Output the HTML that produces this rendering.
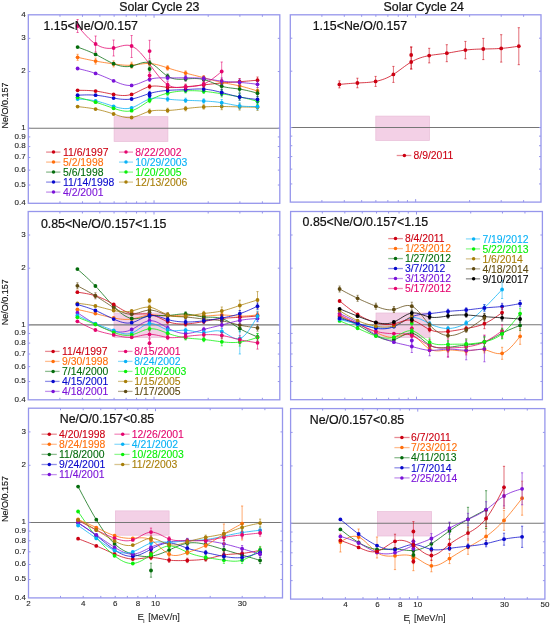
<!DOCTYPE html>
<html><head><meta charset="utf-8"><title>Ne/O ratios</title>
<style>
html,body{margin:0;padding:0;background:#fff;}
body{width:550px;height:626px;overflow:hidden;}
svg{display:block;font-family:"Liberation Sans", sans-serif;filter:blur(0.3px);}
</style></head>
<body>
<svg width="550" height="626" viewBox="0 0 550 626">
<rect width="550" height="626" fill="#fff"/>
<rect x="114.10" y="116.70" width="53.80" height="24.80" fill="#f3d0e6" stroke="#e9bcd8" stroke-width="0.7"/>
<path d="M28.30,128.29H279.80" stroke="#767676" stroke-width="1.05"/>
<path d="M77.60,106.60 L79.85,106.85 L82.10,107.10 L84.35,107.37 L86.60,107.65 L88.85,107.96 L91.10,108.30 L93.35,108.68 L95.60,109.10 L97.85,109.57 L100.10,110.08 L102.35,110.64 L104.60,111.24 L106.85,111.88 L109.10,112.56 L111.35,113.26 L113.60,114.00 L115.85,114.76 L118.10,115.50 L120.35,116.19 L122.60,116.79 L124.85,117.27 L127.10,117.57 L129.35,117.66 L131.60,117.50 L133.85,117.07 L136.10,116.42 L138.35,115.60 L140.60,114.69 L142.85,113.74 L145.10,112.81 L147.35,111.98 L149.60,111.30 L151.85,110.82 L154.10,110.52 L156.35,110.36 L158.60,110.30 L160.85,110.32 L163.10,110.36 L165.35,110.40 L167.60,110.40 L169.85,110.33 L172.10,110.19 L174.35,109.99 L176.60,109.75 L178.85,109.48 L181.10,109.19 L183.35,108.89 L185.60,108.60 L187.86,108.32 L190.12,108.06 L192.39,107.82 L194.65,107.59 L196.91,107.39 L199.17,107.20 L201.44,107.04 L203.70,106.90 L205.95,106.78 L208.20,106.69 L210.45,106.61 L212.70,106.55 L214.95,106.51 L217.20,106.49 L219.45,106.49 L221.70,106.50 L223.94,106.53 L226.17,106.56 L228.41,106.61 L230.65,106.67 L232.89,106.72 L235.12,106.78 L237.36,106.84 L239.60,106.90 L241.84,106.95 L244.07,107.00 L246.31,107.04 L248.55,107.07 L250.79,107.11 L253.03,107.14 L255.26,107.17 L257.50,107.20" stroke="#a87e08" stroke-width="0.9" fill="none" stroke-opacity="0.85"/>
<path d="M149.60,109.10V113.50M148.50,109.10h2.2M148.50,113.50h2.2M167.60,108.20V112.60M166.50,108.20h2.2M166.50,112.60h2.2M185.60,106.40V110.80M184.50,106.40h2.2M184.50,110.80h2.2M203.70,104.70V109.10M202.60,104.70h2.2M202.60,109.10h2.2M221.70,103.30V109.70M220.60,103.30h2.2M220.60,109.70h2.2M239.60,103.70V110.10M238.50,103.70h2.2M238.50,110.10h2.2M257.50,104.00V110.40M256.40,104.00h2.2M256.40,110.40h2.2" stroke="#a87e08" stroke-width="0.8" fill="none" stroke-opacity="0.72"/>
<circle cx="77.60" cy="106.60" r="1.9" fill="#a87e08"/>
<circle cx="95.60" cy="109.10" r="1.9" fill="#a87e08"/>
<circle cx="113.60" cy="114.00" r="1.9" fill="#a87e08"/>
<circle cx="131.60" cy="117.50" r="1.9" fill="#a87e08"/>
<circle cx="149.60" cy="111.30" r="1.9" fill="#a87e08"/>
<circle cx="167.60" cy="110.40" r="1.9" fill="#a87e08"/>
<circle cx="185.60" cy="108.60" r="1.9" fill="#a87e08"/>
<circle cx="203.70" cy="106.90" r="1.9" fill="#a87e08"/>
<circle cx="221.70" cy="106.50" r="1.9" fill="#a87e08"/>
<circle cx="239.60" cy="106.90" r="1.9" fill="#a87e08"/>
<circle cx="257.50" cy="107.20" r="1.9" fill="#a87e08"/>
<path d="M77.60,99.00 L79.85,99.12 L82.10,99.25 L84.35,99.40 L86.60,99.58 L88.85,99.82 L91.10,100.10 L93.35,100.46 L95.60,100.90 L97.85,101.42 L100.10,102.02 L102.35,102.68 L104.60,103.38 L106.85,104.11 L109.10,104.85 L111.35,105.59 L113.60,106.30 L115.85,106.97 L118.10,107.57 L120.35,108.07 L122.60,108.43 L124.85,108.61 L127.10,108.59 L129.35,108.33 L131.60,107.80 L133.85,106.98 L136.10,105.93 L138.35,104.72 L140.60,103.44 L142.85,102.15 L145.10,100.93 L147.35,99.85 L149.60,99.00 L151.85,98.43 L154.10,98.10 L156.35,97.99 L158.60,98.05 L160.85,98.24 L163.10,98.50 L165.35,98.80 L167.60,99.10 L169.85,99.36 L172.10,99.57 L174.35,99.75 L176.60,99.90 L178.85,100.03 L181.10,100.13 L183.35,100.22 L185.60,100.30 L187.86,100.38 L190.12,100.46 L192.39,100.53 L194.65,100.62 L196.91,100.70 L199.17,100.79 L201.44,100.89 L203.70,101.00 L205.95,101.12 L208.20,101.26 L210.45,101.41 L212.70,101.60 L214.95,101.81 L217.20,102.07 L219.45,102.36 L221.70,102.70 L223.94,103.09 L226.17,103.51 L228.41,103.95 L230.65,104.39 L232.89,104.82 L235.12,105.23 L237.36,105.59 L239.60,105.90 L241.84,106.14 L244.07,106.31 L246.31,106.42 L248.55,106.49 L250.79,106.53 L253.03,106.53 L255.26,106.52 L257.50,106.50" stroke="#08b2f6" stroke-width="0.9" fill="none" stroke-opacity="0.85"/>
<path d="M149.60,96.80V101.20M148.50,96.80h2.2M148.50,101.20h2.2M167.60,96.90V101.30M166.50,96.90h2.2M166.50,101.30h2.2M185.60,98.10V102.50M184.50,98.10h2.2M184.50,102.50h2.2M203.70,98.80V103.20M202.60,98.80h2.2M202.60,103.20h2.2M221.70,99.50V105.90M220.60,99.50h2.2M220.60,105.90h2.2M239.60,102.70V109.10M238.50,102.70h2.2M238.50,109.10h2.2M257.50,103.30V109.70M256.40,103.30h2.2M256.40,109.70h2.2" stroke="#08b2f6" stroke-width="0.8" fill="none" stroke-opacity="0.72"/>
<circle cx="77.60" cy="99.00" r="1.9" fill="#08b2f6"/>
<circle cx="95.60" cy="100.90" r="1.9" fill="#08b2f6"/>
<circle cx="113.60" cy="106.30" r="1.9" fill="#08b2f6"/>
<circle cx="131.60" cy="107.80" r="1.9" fill="#08b2f6"/>
<circle cx="149.60" cy="99.00" r="1.9" fill="#08b2f6"/>
<circle cx="167.60" cy="99.10" r="1.9" fill="#08b2f6"/>
<circle cx="185.60" cy="100.30" r="1.9" fill="#08b2f6"/>
<circle cx="203.70" cy="101.00" r="1.9" fill="#08b2f6"/>
<circle cx="221.70" cy="102.70" r="1.9" fill="#08b2f6"/>
<circle cx="239.60" cy="105.90" r="1.9" fill="#08b2f6"/>
<circle cx="257.50" cy="106.50" r="1.9" fill="#08b2f6"/>
<path d="M77.60,97.30 L79.85,97.87 L82.10,98.45 L84.35,99.03 L86.60,99.62 L88.85,100.23 L91.10,100.86 L93.35,101.52 L95.60,102.20 L97.85,102.91 L100.10,103.65 L102.35,104.41 L104.60,105.18 L106.85,105.96 L109.10,106.74 L111.35,107.53 L113.60,108.30 L115.85,109.06 L118.10,109.76 L120.35,110.37 L122.60,110.85 L124.85,111.17 L127.10,111.27 L129.35,111.13 L131.60,110.70 L133.85,109.96 L136.10,108.96 L138.35,107.74 L140.60,106.37 L142.85,104.91 L145.10,103.40 L147.35,101.91 L149.60,100.50 L151.85,99.21 L154.10,98.04 L156.35,96.98 L158.60,96.04 L160.85,95.19 L163.10,94.45 L165.35,93.78 L167.60,93.20 L169.85,92.69 L172.10,92.25 L174.35,91.87 L176.60,91.55 L178.85,91.29 L181.10,91.08 L183.35,90.92 L185.60,90.80 L187.86,90.72 L190.12,90.69 L192.39,90.69 L194.65,90.74 L196.91,90.82 L199.17,90.94 L201.44,91.10 L203.70,91.30 L205.95,91.53 L208.20,91.80 L210.45,92.10 L212.70,92.41 L214.95,92.75 L217.20,93.09 L219.45,93.44 L221.70,93.80 L223.94,94.15 L226.17,94.51 L228.41,94.87 L230.65,95.24 L232.89,95.62 L235.12,96.02 L237.36,96.45 L239.60,96.90 L241.84,97.38 L244.07,97.89 L246.31,98.42 L248.55,98.98 L250.79,99.54 L253.03,100.12 L255.26,100.71 L257.50,101.30" stroke="#08f008" stroke-width="0.9" fill="none" stroke-opacity="0.85"/>
<path d="M149.60,98.30V102.70M148.50,98.30h2.2M148.50,102.70h2.2M167.60,91.00V95.40M166.50,91.00h2.2M166.50,95.40h2.2M185.60,88.60V93.00M184.50,88.60h2.2M184.50,93.00h2.2M203.70,89.10V93.50M202.60,89.10h2.2M202.60,93.50h2.2M221.70,90.60V97.00M220.60,90.60h2.2M220.60,97.00h2.2M239.60,93.70V100.10M238.50,93.70h2.2M238.50,100.10h2.2M257.50,98.10V104.50M256.40,98.10h2.2M256.40,104.50h2.2" stroke="#08f008" stroke-width="0.8" fill="none" stroke-opacity="0.72"/>
<circle cx="77.60" cy="97.30" r="1.9" fill="#08f008"/>
<circle cx="95.60" cy="102.20" r="1.9" fill="#08f008"/>
<circle cx="113.60" cy="108.30" r="1.9" fill="#08f008"/>
<circle cx="131.60" cy="110.70" r="1.9" fill="#08f008"/>
<circle cx="149.60" cy="100.50" r="1.9" fill="#08f008"/>
<circle cx="167.60" cy="93.20" r="1.9" fill="#08f008"/>
<circle cx="185.60" cy="90.80" r="1.9" fill="#08f008"/>
<circle cx="203.70" cy="91.30" r="1.9" fill="#08f008"/>
<circle cx="221.70" cy="93.80" r="1.9" fill="#08f008"/>
<circle cx="239.60" cy="96.90" r="1.9" fill="#08f008"/>
<circle cx="257.50" cy="101.30" r="1.9" fill="#08f008"/>
<path d="M77.60,95.20 L79.85,95.10 L82.10,95.02 L84.35,94.95 L86.60,94.90 L88.85,94.90 L91.10,94.94 L93.35,95.04 L95.60,95.20 L97.85,95.43 L100.10,95.73 L102.35,96.07 L104.60,96.45 L106.85,96.86 L109.10,97.27 L111.35,97.69 L113.60,98.10 L115.85,98.48 L118.10,98.82 L120.35,99.11 L122.60,99.31 L124.85,99.42 L127.10,99.42 L129.35,99.28 L131.60,99.00 L133.85,98.56 L136.10,97.99 L138.35,97.31 L140.60,96.56 L142.85,95.78 L145.10,94.98 L147.35,94.21 L149.60,93.50 L151.85,92.87 L154.10,92.32 L156.35,91.85 L158.60,91.44 L160.85,91.10 L163.10,90.82 L165.35,90.59 L167.60,90.40 L169.85,90.25 L172.10,90.13 L174.35,90.03 L176.60,89.95 L178.85,89.87 L181.10,89.80 L183.35,89.71 L185.60,89.60 L187.86,89.47 L190.12,89.33 L192.39,89.19 L194.65,89.08 L196.91,88.99 L199.17,88.96 L201.44,88.99 L203.70,89.10 L205.95,89.30 L208.20,89.58 L210.45,89.94 L212.70,90.36 L214.95,90.84 L217.20,91.36 L219.45,91.92 L221.70,92.50 L223.94,93.10 L226.17,93.70 L228.41,94.30 L230.65,94.89 L232.89,95.47 L235.12,96.01 L237.36,96.53 L239.60,97.00 L241.84,97.42 L244.07,97.80 L246.31,98.14 L248.55,98.45 L250.79,98.74 L253.03,99.00 L255.26,99.25 L257.50,99.50" stroke="#0808cc" stroke-width="0.9" fill="none" stroke-opacity="0.85"/>
<path d="M149.60,91.30V95.70M148.50,91.30h2.2M148.50,95.70h2.2M167.60,88.20V92.60M166.50,88.20h2.2M166.50,92.60h2.2M185.60,87.40V91.80M184.50,87.40h2.2M184.50,91.80h2.2M203.70,86.90V91.30M202.60,86.90h2.2M202.60,91.30h2.2M221.70,89.30V95.70M220.60,89.30h2.2M220.60,95.70h2.2M239.60,93.80V100.20M238.50,93.80h2.2M238.50,100.20h2.2M257.50,96.30V102.70M256.40,96.30h2.2M256.40,102.70h2.2M149.60,93.30V97.70M148.50,93.30h2.2M148.50,97.70h2.2" stroke="#0808cc" stroke-width="0.8" fill="none" stroke-opacity="0.72"/>
<circle cx="77.60" cy="95.20" r="1.9" fill="#0808cc"/>
<circle cx="95.60" cy="95.20" r="1.9" fill="#0808cc"/>
<circle cx="113.60" cy="98.10" r="1.9" fill="#0808cc"/>
<circle cx="131.60" cy="99.00" r="1.9" fill="#0808cc"/>
<circle cx="149.60" cy="93.50" r="1.9" fill="#0808cc"/>
<circle cx="167.60" cy="90.40" r="1.9" fill="#0808cc"/>
<circle cx="185.60" cy="89.60" r="1.9" fill="#0808cc"/>
<circle cx="203.70" cy="89.10" r="1.9" fill="#0808cc"/>
<circle cx="221.70" cy="92.50" r="1.9" fill="#0808cc"/>
<circle cx="239.60" cy="97.00" r="1.9" fill="#0808cc"/>
<circle cx="257.50" cy="99.50" r="1.9" fill="#0808cc"/>
<circle cx="149.60" cy="95.50" r="1.9" fill="#0808cc"/>
<path d="M77.60,90.30 L79.85,90.31 L82.10,90.33 L84.35,90.37 L86.60,90.43 L88.85,90.53 L91.10,90.67 L93.35,90.85 L95.60,91.10 L97.85,91.41 L100.10,91.77 L102.35,92.18 L104.60,92.61 L106.85,93.07 L109.10,93.52 L111.35,93.97 L113.60,94.40 L115.85,94.79 L118.10,95.13 L120.35,95.38 L122.60,95.51 L124.85,95.51 L127.10,95.34 L129.35,94.98 L131.60,94.40 L133.85,93.59 L136.10,92.60 L138.35,91.49 L140.60,90.34 L142.85,89.21 L145.10,88.17 L147.35,87.27 L149.60,86.60 L151.85,86.19 L154.10,86.02 L156.35,86.04 L158.60,86.20 L160.85,86.45 L163.10,86.75 L165.35,87.05 L167.60,87.30 L169.85,87.46 L172.10,87.54 L174.35,87.53 L176.60,87.47 L178.85,87.35 L181.10,87.20 L183.35,87.01 L185.60,86.80 L187.86,86.58 L190.12,86.36 L192.39,86.13 L194.65,85.89 L196.91,85.65 L199.17,85.40 L201.44,85.15 L203.70,84.90 L205.95,84.65 L208.20,84.39 L210.45,84.14 L212.70,83.89 L214.95,83.65 L217.20,83.42 L219.45,83.20 L221.70,83.00 L223.94,82.81 L226.17,82.64 L228.41,82.48 L230.65,82.32 L232.89,82.17 L235.12,82.01 L237.36,81.86 L239.60,81.70 L241.84,81.53 L244.07,81.36 L246.31,81.17 L248.55,80.99 L250.79,80.79 L253.03,80.60 L255.26,80.40 L257.50,80.20" stroke="#cc0012" stroke-width="0.9" fill="none" stroke-opacity="0.85"/>
<path d="M149.60,84.40V88.80M148.50,84.40h2.2M148.50,88.80h2.2M167.60,85.10V89.50M166.50,85.10h2.2M166.50,89.50h2.2M185.60,84.60V89.00M184.50,84.60h2.2M184.50,89.00h2.2M203.70,82.70V87.10M202.60,82.70h2.2M202.60,87.10h2.2M221.70,79.80V86.20M220.60,79.80h2.2M220.60,86.20h2.2M239.60,78.50V84.90M238.50,78.50h2.2M238.50,84.90h2.2M257.50,77.00V83.40M256.40,77.00h2.2M256.40,83.40h2.2" stroke="#cc0012" stroke-width="0.8" fill="none" stroke-opacity="0.72"/>
<circle cx="77.60" cy="90.30" r="1.9" fill="#cc0012"/>
<circle cx="95.60" cy="91.10" r="1.9" fill="#cc0012"/>
<circle cx="113.60" cy="94.40" r="1.9" fill="#cc0012"/>
<circle cx="131.60" cy="94.40" r="1.9" fill="#cc0012"/>
<circle cx="149.60" cy="86.60" r="1.9" fill="#cc0012"/>
<circle cx="167.60" cy="87.30" r="1.9" fill="#cc0012"/>
<circle cx="185.60" cy="86.80" r="1.9" fill="#cc0012"/>
<circle cx="203.70" cy="84.90" r="1.9" fill="#cc0012"/>
<circle cx="221.70" cy="83.00" r="1.9" fill="#cc0012"/>
<circle cx="239.60" cy="81.70" r="1.9" fill="#cc0012"/>
<circle cx="257.50" cy="80.20" r="1.9" fill="#cc0012"/>
<path d="M77.60,57.30 L79.85,57.81 L82.10,58.31 L84.35,58.80 L86.60,59.29 L88.85,59.77 L91.10,60.23 L93.35,60.68 L95.60,61.10 L97.85,61.50 L100.10,61.88 L102.35,62.25 L104.60,62.60 L106.85,62.93 L109.10,63.26 L111.35,63.58 L113.60,63.90 L115.85,64.21 L118.10,64.51 L120.35,64.78 L122.60,65.01 L124.85,65.18 L127.10,65.28 L129.35,65.29 L131.60,65.20 L133.85,65.01 L136.10,64.73 L138.35,64.42 L140.60,64.10 L142.85,63.81 L145.10,63.59 L147.35,63.48 L149.60,63.50 L151.85,63.69 L154.10,64.04 L156.35,64.51 L158.60,65.08 L160.85,65.73 L163.10,66.43 L165.35,67.17 L167.60,67.90 L169.85,68.62 L172.10,69.31 L174.35,69.99 L176.60,70.64 L178.85,71.28 L181.10,71.90 L183.35,72.51 L185.60,73.10 L187.86,73.68 L190.12,74.25 L192.39,74.82 L194.65,75.38 L196.91,75.95 L199.17,76.52 L201.44,77.10 L203.70,77.70 L205.95,78.31 L208.20,78.93 L210.45,79.54 L212.70,80.16 L214.95,80.76 L217.20,81.34 L219.45,81.89 L221.70,82.40 L223.94,82.87 L226.17,83.31 L228.41,83.72 L230.65,84.13 L232.89,84.54 L235.12,84.96 L237.36,85.41 L239.60,85.90 L241.84,86.43 L244.07,87.01 L246.31,87.62 L248.55,88.26 L250.79,88.92 L253.03,89.60 L255.26,90.30 L257.50,91.00" stroke="#ff6e0a" stroke-width="0.9" fill="none" stroke-opacity="0.85"/>
<path d="M77.60,54.30V60.30M76.50,54.30h2.2M76.50,60.30h2.2M95.60,58.10V64.10M94.50,58.10h2.2M94.50,64.10h2.2M113.60,60.90V66.90M112.50,60.90h2.2M112.50,66.90h2.2M131.60,62.20V68.20M130.50,62.20h2.2M130.50,68.20h2.2M149.60,61.30V65.70M148.50,61.30h2.2M148.50,65.70h2.2M167.60,65.70V70.10M166.50,65.70h2.2M166.50,70.10h2.2M185.60,70.90V75.30M184.50,70.90h2.2M184.50,75.30h2.2M203.70,75.50V79.90M202.60,75.50h2.2M202.60,79.90h2.2M221.70,79.20V85.60M220.60,79.20h2.2M220.60,85.60h2.2M239.60,82.70V89.10M238.50,82.70h2.2M238.50,89.10h2.2M257.50,87.80V94.20M256.40,87.80h2.2M256.40,94.20h2.2" stroke="#ff6e0a" stroke-width="0.8" fill="none" stroke-opacity="0.72"/>
<circle cx="77.60" cy="57.30" r="1.9" fill="#ff6e0a"/>
<circle cx="95.60" cy="61.10" r="1.9" fill="#ff6e0a"/>
<circle cx="113.60" cy="63.90" r="1.9" fill="#ff6e0a"/>
<circle cx="131.60" cy="65.20" r="1.9" fill="#ff6e0a"/>
<circle cx="149.60" cy="63.50" r="1.9" fill="#ff6e0a"/>
<circle cx="167.60" cy="67.90" r="1.9" fill="#ff6e0a"/>
<circle cx="185.60" cy="73.10" r="1.9" fill="#ff6e0a"/>
<circle cx="203.70" cy="77.70" r="1.9" fill="#ff6e0a"/>
<circle cx="221.70" cy="82.40" r="1.9" fill="#ff6e0a"/>
<circle cx="239.60" cy="85.90" r="1.9" fill="#ff6e0a"/>
<circle cx="257.50" cy="91.00" r="1.9" fill="#ff6e0a"/>
<path d="M77.60,47.10 L79.85,47.91 L82.10,48.73 L84.35,49.57 L86.60,50.44 L88.85,51.35 L91.10,52.31 L93.35,53.32 L95.60,54.40 L97.85,55.55 L100.10,56.76 L102.35,57.99 L104.60,59.23 L106.85,60.44 L109.10,61.61 L111.35,62.70 L113.60,63.70 L115.85,64.58 L118.10,65.32 L120.35,65.92 L122.60,66.34 L124.85,66.59 L127.10,66.64 L129.35,66.48 L131.60,66.10 L133.85,65.49 L136.10,64.75 L138.35,63.96 L140.60,63.22 L142.85,62.64 L145.10,62.31 L147.35,62.33 L149.60,62.80 L151.85,63.78 L154.10,65.19 L156.35,66.92 L158.60,68.85 L160.85,70.85 L163.10,72.83 L165.35,74.65 L167.60,76.20 L169.85,77.40 L172.10,78.26 L174.35,78.83 L176.60,79.15 L178.85,79.29 L181.10,79.28 L183.35,79.16 L185.60,79.00 L187.86,78.83 L190.12,78.67 L192.39,78.57 L194.65,78.52 L196.91,78.57 L199.17,78.73 L201.44,79.04 L203.70,79.50 L205.95,80.13 L208.20,80.91 L210.45,81.79 L212.70,82.72 L214.95,83.67 L217.20,84.60 L219.45,85.45 L221.70,86.20 L223.94,86.80 L226.17,87.29 L228.41,87.67 L230.65,87.99 L232.89,88.26 L235.12,88.52 L237.36,88.79 L239.60,89.10 L241.84,89.47 L244.07,89.90 L246.31,90.37 L248.55,90.89 L250.79,91.44 L253.03,92.01 L255.26,92.60 L257.50,93.20" stroke="#046c0c" stroke-width="0.9" fill="none" stroke-opacity="0.85"/>
<path d="M149.60,60.60V65.00M148.50,60.60h2.2M148.50,65.00h2.2M167.60,74.00V78.40M166.50,74.00h2.2M166.50,78.40h2.2M185.60,76.80V81.20M184.50,76.80h2.2M184.50,81.20h2.2M203.70,77.30V81.70M202.60,77.30h2.2M202.60,81.70h2.2M221.70,83.00V89.40M220.60,83.00h2.2M220.60,89.40h2.2M239.60,85.90V92.30M238.50,85.90h2.2M238.50,92.30h2.2M257.50,90.00V96.40M256.40,90.00h2.2M256.40,96.40h2.2M149.60,66.80V71.20M148.50,66.80h2.2M148.50,71.20h2.2" stroke="#046c0c" stroke-width="0.8" fill="none" stroke-opacity="0.72"/>
<circle cx="77.60" cy="47.10" r="1.9" fill="#046c0c"/>
<circle cx="95.60" cy="54.40" r="1.9" fill="#046c0c"/>
<circle cx="113.60" cy="63.70" r="1.9" fill="#046c0c"/>
<circle cx="131.60" cy="66.10" r="1.9" fill="#046c0c"/>
<circle cx="149.60" cy="62.80" r="1.9" fill="#046c0c"/>
<circle cx="167.60" cy="76.20" r="1.9" fill="#046c0c"/>
<circle cx="185.60" cy="79.00" r="1.9" fill="#046c0c"/>
<circle cx="203.70" cy="79.50" r="1.9" fill="#046c0c"/>
<circle cx="221.70" cy="86.20" r="1.9" fill="#046c0c"/>
<circle cx="239.60" cy="89.10" r="1.9" fill="#046c0c"/>
<circle cx="257.50" cy="93.20" r="1.9" fill="#046c0c"/>
<circle cx="149.60" cy="69.00" r="1.9" fill="#046c0c"/>
<path d="M77.60,68.50 L79.85,69.03 L82.10,69.57 L84.35,70.13 L86.60,70.71 L88.85,71.32 L91.10,71.96 L93.35,72.66 L95.60,73.40 L97.85,74.20 L100.10,75.06 L102.35,75.95 L104.60,76.89 L106.85,77.84 L109.10,78.82 L111.35,79.81 L113.60,80.80 L115.85,81.78 L118.10,82.71 L120.35,83.57 L122.60,84.31 L124.85,84.90 L127.10,85.30 L129.35,85.48 L131.60,85.40 L133.85,85.04 L136.10,84.44 L138.35,83.67 L140.60,82.78 L142.85,81.84 L145.10,80.90 L147.35,80.04 L149.60,79.30 L151.85,78.74 L154.10,78.34 L156.35,78.07 L158.60,77.92 L160.85,77.85 L163.10,77.84 L165.35,77.87 L167.60,77.90 L169.85,77.92 L172.10,77.92 L174.35,77.91 L176.60,77.89 L178.85,77.86 L181.10,77.84 L183.35,77.82 L185.60,77.80 L187.86,77.79 L190.12,77.80 L192.39,77.83 L194.65,77.89 L196.91,77.98 L199.17,78.11 L201.44,78.28 L203.70,78.50 L205.95,78.77 L208.20,79.09 L210.45,79.43 L212.70,79.78 L214.95,80.14 L217.20,80.49 L219.45,80.81 L221.70,81.10 L223.94,81.34 L226.17,81.53 L228.41,81.70 L230.65,81.84 L232.89,81.98 L235.12,82.11 L237.36,82.25 L239.60,82.40 L241.84,82.58 L244.07,82.78 L246.31,83.00 L248.55,83.24 L250.79,83.50 L253.03,83.76 L255.26,84.03 L257.50,84.30" stroke="#7a12d8" stroke-width="0.9" fill="none" stroke-opacity="0.85"/>
<path d="M149.60,77.10V81.50M148.50,77.10h2.2M148.50,81.50h2.2M167.60,75.70V80.10M166.50,75.70h2.2M166.50,80.10h2.2M185.60,75.60V80.00M184.50,75.60h2.2M184.50,80.00h2.2M203.70,76.30V80.70M202.60,76.30h2.2M202.60,80.70h2.2M221.70,77.90V84.30M220.60,77.90h2.2M220.60,84.30h2.2M239.60,79.20V85.60M238.50,79.20h2.2M238.50,85.60h2.2M257.50,81.10V87.50M256.40,81.10h2.2M256.40,87.50h2.2" stroke="#7a12d8" stroke-width="0.8" fill="none" stroke-opacity="0.72"/>
<circle cx="77.60" cy="68.50" r="1.9" fill="#7a12d8"/>
<circle cx="95.60" cy="73.40" r="1.9" fill="#7a12d8"/>
<circle cx="113.60" cy="80.80" r="1.9" fill="#7a12d8"/>
<circle cx="131.60" cy="85.40" r="1.9" fill="#7a12d8"/>
<circle cx="149.60" cy="79.30" r="1.9" fill="#7a12d8"/>
<circle cx="167.60" cy="77.90" r="1.9" fill="#7a12d8"/>
<circle cx="185.60" cy="77.80" r="1.9" fill="#7a12d8"/>
<circle cx="203.70" cy="78.50" r="1.9" fill="#7a12d8"/>
<circle cx="221.70" cy="81.10" r="1.9" fill="#7a12d8"/>
<circle cx="239.60" cy="82.40" r="1.9" fill="#7a12d8"/>
<circle cx="257.50" cy="84.30" r="1.9" fill="#7a12d8"/>
<path d="M77.60,26.00 L79.85,28.62 L82.10,31.20 L84.35,33.71 L86.60,36.11 L88.85,38.38 L91.10,40.47 L93.35,42.36 L95.60,44.00 L97.85,45.37 L100.10,46.47 L102.35,47.32 L104.60,47.91 L106.85,48.27 L109.10,48.40 L111.35,48.30 L113.60,48.00 L115.85,47.51 L118.10,46.91 L120.35,46.29 L122.60,45.74 L124.85,45.34 L127.10,45.20 L129.35,45.38 L131.60,46.00 L136.10,48.67 L140.60,52.92 L145.10,58.27 L149.60,64.24 L154.10,70.35 L158.60,76.11 L163.10,81.06 L167.60,84.70 L169.85,85.90 L172.10,86.72 L174.35,87.21 L176.60,87.45 L178.85,87.48 L181.10,87.38 L183.35,87.20 L185.60,87.00 L187.86,86.83 L190.12,86.68 L192.39,86.50 L194.65,86.26 L196.91,85.93 L199.17,85.46 L201.44,84.83 L203.70,84.00 L205.95,82.95 L208.20,81.69 L210.45,80.26 L212.70,78.69 L214.95,76.99 L217.20,75.21 L219.45,73.37 L221.70,71.50" stroke="#e4046e" stroke-width="0.9" fill="none" stroke-opacity="0.85"/>
<path d="M77.60,19.50V32.50M76.50,19.50h2.2M76.50,32.50h2.2M95.60,36.00V52.00M94.50,36.00h2.2M94.50,52.00h2.2M113.60,40.00V56.00M112.50,40.00h2.2M112.50,56.00h2.2M131.60,35.50V57.50M130.50,35.50h2.2M130.50,57.50h2.2M167.60,81.70V87.70M166.50,81.70h2.2M166.50,87.70h2.2M185.60,84.00V90.00M184.50,84.00h2.2M184.50,90.00h2.2M203.70,81.00V87.00M202.60,81.00h2.2M202.60,87.00h2.2M221.70,62.00V81.00M220.60,62.00h2.2M220.60,81.00h2.2M149.60,40.30V59.00M148.50,40.30h2.2M148.50,59.00h2.2M149.60,72.40V78.40M148.50,72.40h2.2M148.50,78.40h2.2" stroke="#e4046e" stroke-width="0.8" fill="none" stroke-opacity="0.72"/>
<circle cx="77.60" cy="26.00" r="1.9" fill="#e4046e"/>
<circle cx="95.60" cy="44.00" r="1.9" fill="#e4046e"/>
<circle cx="113.60" cy="48.00" r="1.9" fill="#e4046e"/>
<circle cx="131.60" cy="46.00" r="1.9" fill="#e4046e"/>
<circle cx="167.60" cy="84.70" r="1.9" fill="#e4046e"/>
<circle cx="185.60" cy="87.00" r="1.9" fill="#e4046e"/>
<circle cx="203.70" cy="84.00" r="1.9" fill="#e4046e"/>
<circle cx="221.70" cy="71.50" r="1.9" fill="#e4046e"/>
<circle cx="149.60" cy="51.10" r="1.9" fill="#e4046e"/>
<circle cx="149.60" cy="75.40" r="1.9" fill="#e4046e"/>
<path d="M59.98,203.30v-2.0M59.98,14.80v2.0M82.46,203.30v-2.0M82.46,14.80v2.0M99.89,203.30v-2.0M99.89,14.80v2.0M114.14,203.30v-2.0M114.14,14.80v2.0M126.18,203.30v-2.0M126.18,14.80v2.0M136.62,203.30v-2.0M136.62,14.80v2.0M145.82,203.30v-2.0M145.82,14.80v2.0M154.05,203.30v-3.0M154.05,14.80v3.0M208.21,203.30v-2.0M208.21,14.80v2.0M239.89,203.30v-2.0M239.89,14.80v2.0M262.37,203.30v-2.0M262.37,14.80v2.0M28.30,185.03h2.0M279.80,185.03h-2.0M28.30,170.11h2.0M279.80,170.11h-2.0M28.30,157.49h2.0M279.80,157.49h-2.0M28.30,146.56h2.0M279.80,146.56h-2.0M28.30,136.91h2.0M279.80,136.91h-2.0M28.30,128.29h2.0M279.80,128.29h-2.0M28.30,71.54h2.0M279.80,71.54h-2.0M28.30,38.35h2.0M279.80,38.35h-2.0" stroke="#9696ec" stroke-width="1" fill="none"/>
<rect x="28.30" y="14.80" width="251.50" height="188.50" fill="none" stroke="#9696ec" stroke-width="1.3"/>
<text x="25.70" y="205.20" font-size="8" fill="#222" stroke="#222" stroke-width="0.1" text-anchor="end" >0.4</text>
<text x="25.70" y="186.93" font-size="8" fill="#222" stroke="#222" stroke-width="0.1" text-anchor="end" >0.5</text>
<text x="25.70" y="172.01" font-size="8" fill="#222" stroke="#222" stroke-width="0.1" text-anchor="end" >0.6</text>
<text x="25.70" y="159.39" font-size="8" fill="#222" stroke="#222" stroke-width="0.1" text-anchor="end" >0.7</text>
<text x="25.70" y="148.46" font-size="8" fill="#222" stroke="#222" stroke-width="0.1" text-anchor="end" >0.8</text>
<text x="25.70" y="138.81" font-size="8" fill="#222" stroke="#222" stroke-width="0.1" text-anchor="end" >0.9</text>
<text x="25.70" y="130.19" font-size="8" fill="#222" stroke="#222" stroke-width="0.1" text-anchor="end" >1</text>
<text x="25.70" y="73.44" font-size="8" fill="#222" stroke="#222" stroke-width="0.1" text-anchor="end" >2</text>
<text x="25.70" y="40.25" font-size="8" fill="#222" stroke="#222" stroke-width="0.1" text-anchor="end" >3</text>
<text x="25.70" y="16.70" font-size="8" fill="#222" stroke="#222" stroke-width="0.1" text-anchor="end" >4</text>
<text x="0" y="0" font-size="9" fill="#111" stroke="#111" stroke-width="0.15" text-anchor="middle" transform="translate(8.2,105.60) rotate(-90)">Ne/O/0.157</text>
<text x="43.50" y="29.90" font-size="12.35" fill="#111" stroke="#111" stroke-width="0.22" text-anchor="start" >1.15&lt;Ne/O/0.157</text>
<path d="M46.10,152.10H60.40" stroke="#cc0012" stroke-width="1.3" stroke-opacity="0.45"/>
<circle cx="53.50" cy="152.10" r="1.75" fill="#cc0012"/>
<text x="63.00" y="155.80" font-size="10.4" fill="#cc0012" stroke="#cc0012" stroke-width="0.1" text-anchor="start" >11/6/1997</text>
<path d="M46.10,162.10H60.40" stroke="#ff6e0a" stroke-width="1.3" stroke-opacity="0.45"/>
<circle cx="53.50" cy="162.10" r="1.75" fill="#ff6e0a"/>
<text x="63.00" y="165.80" font-size="10.4" fill="#ff6e0a" stroke="#ff6e0a" stroke-width="0.1" text-anchor="start" >5/2/1998</text>
<path d="M46.10,172.10H60.40" stroke="#046c0c" stroke-width="1.3" stroke-opacity="0.45"/>
<circle cx="53.50" cy="172.10" r="1.75" fill="#046c0c"/>
<text x="63.00" y="175.80" font-size="10.4" fill="#046c0c" stroke="#046c0c" stroke-width="0.1" text-anchor="start" >5/6/1998</text>
<path d="M46.10,182.10H60.40" stroke="#0808cc" stroke-width="1.3" stroke-opacity="0.45"/>
<circle cx="53.50" cy="182.10" r="1.75" fill="#0808cc"/>
<text x="63.00" y="185.80" font-size="10.4" fill="#0808cc" stroke="#0808cc" stroke-width="0.1" text-anchor="start" >11/14/1998</text>
<path d="M46.10,192.10H60.40" stroke="#7a12d8" stroke-width="1.3" stroke-opacity="0.45"/>
<circle cx="53.50" cy="192.10" r="1.75" fill="#7a12d8"/>
<text x="63.00" y="195.80" font-size="10.4" fill="#7a12d8" stroke="#7a12d8" stroke-width="0.1" text-anchor="start" >4/2/2001</text>
<path d="M119.00,152.10H133.00" stroke="#e4046e" stroke-width="1.3" stroke-opacity="0.45"/>
<circle cx="126.00" cy="152.10" r="1.75" fill="#e4046e"/>
<text x="135.30" y="155.80" font-size="10.4" fill="#e4046e" stroke="#e4046e" stroke-width="0.1" text-anchor="start" >8/22/2002</text>
<path d="M119.00,162.10H133.00" stroke="#08b2f6" stroke-width="1.3" stroke-opacity="0.45"/>
<circle cx="126.00" cy="162.10" r="1.75" fill="#08b2f6"/>
<text x="135.30" y="165.80" font-size="10.4" fill="#08b2f6" stroke="#08b2f6" stroke-width="0.1" text-anchor="start" >10/29/2003</text>
<path d="M119.00,172.10H133.00" stroke="#08f008" stroke-width="1.3" stroke-opacity="0.45"/>
<circle cx="126.00" cy="172.10" r="1.75" fill="#08f008"/>
<text x="135.30" y="175.80" font-size="10.4" fill="#08f008" stroke="#08f008" stroke-width="0.1" text-anchor="start" >1/20/2005</text>
<path d="M119.00,182.10H133.00" stroke="#a87e08" stroke-width="1.3" stroke-opacity="0.45"/>
<circle cx="126.00" cy="182.10" r="1.75" fill="#a87e08"/>
<text x="135.30" y="185.80" font-size="10.4" fill="#a87e08" stroke="#a87e08" stroke-width="0.1" text-anchor="start" >12/13/2006</text>
<rect x="375.80" y="116.10" width="53.70" height="24.40" fill="#f3d0e6" stroke="#e9bcd8" stroke-width="0.7"/>
<path d="M290.30,127.57H541.00" stroke="#767676" stroke-width="1.05"/>
<path d="M339.40,84.40 L341.65,84.20 L343.90,84.00 L346.15,83.81 L348.40,83.62 L350.65,83.44 L352.90,83.28 L355.15,83.13 L357.40,83.00 L359.67,82.89 L361.95,82.78 L364.23,82.66 L366.50,82.52 L368.77,82.33 L371.05,82.10 L373.33,81.79 L375.60,81.40 L377.83,80.92 L380.05,80.34 L382.27,79.66 L384.50,78.85 L386.73,77.94 L388.95,76.89 L391.17,75.71 L393.40,74.40 L395.62,72.95 L397.85,71.40 L400.07,69.77 L402.30,68.12 L404.52,66.48 L406.75,64.89 L408.97,63.38 L411.20,62.00 L413.45,60.76 L415.70,59.67 L417.95,58.71 L420.20,57.89 L422.45,57.18 L424.70,56.57 L426.95,56.05 L429.20,55.60 L431.40,55.22 L433.60,54.89 L435.80,54.59 L438.00,54.32 L440.20,54.06 L442.40,53.79 L444.60,53.51 L446.80,53.20 L449.12,52.84 L451.45,52.44 L453.77,52.02 L456.10,51.60 L458.43,51.19 L460.75,50.79 L463.07,50.42 L465.40,50.10 L467.64,49.84 L469.88,49.62 L472.11,49.45 L474.35,49.31 L476.59,49.20 L478.82,49.11 L481.06,49.05 L483.30,49.00 L485.54,48.96 L487.77,48.92 L490.01,48.88 L492.25,48.83 L494.49,48.76 L496.73,48.67 L498.96,48.55 L501.20,48.40 L503.40,48.21 L505.60,47.99 L507.80,47.74 L510.00,47.46 L512.20,47.16 L514.40,46.85 L516.60,46.53 L518.80,46.20" stroke="#cc0012" stroke-width="0.9" fill="none" stroke-opacity="0.85"/>
<path d="M339.40,80.90V87.90M338.30,80.90h2.2M338.30,87.90h2.2M357.40,78.20V87.80M356.30,78.20h2.2M356.30,87.80h2.2M375.60,76.40V86.40M374.50,76.40h2.2M374.50,86.40h2.2M393.40,66.40V82.40M392.30,66.40h2.2M392.30,82.40h2.2M411.20,47.00V69.00M410.10,47.00h2.2M410.10,69.00h2.2M429.20,48.30V62.90M428.10,48.30h2.2M428.10,62.90h2.2M446.80,44.70V61.70M445.70,44.70h2.2M445.70,61.70h2.2M465.40,41.40V58.80M464.30,41.40h2.2M464.30,58.80h2.2M483.30,38.40V59.60M482.20,38.40h2.2M482.20,59.60h2.2M501.20,34.70V62.10M500.10,34.70h2.2M500.10,62.10h2.2M518.80,27.70V64.70M517.70,27.70h2.2M517.70,64.70h2.2M411.20,47.00V69.00M410.10,47.00h2.2M410.10,69.00h2.2" stroke="#cc0012" stroke-width="0.8" fill="none" stroke-opacity="0.72"/>
<circle cx="339.40" cy="84.40" r="1.9" fill="#cc0012"/>
<circle cx="357.40" cy="83.00" r="1.9" fill="#cc0012"/>
<circle cx="375.60" cy="81.40" r="1.9" fill="#cc0012"/>
<circle cx="393.40" cy="74.40" r="1.9" fill="#cc0012"/>
<circle cx="411.20" cy="62.00" r="1.9" fill="#cc0012"/>
<circle cx="429.20" cy="55.60" r="1.9" fill="#cc0012"/>
<circle cx="446.80" cy="53.20" r="1.9" fill="#cc0012"/>
<circle cx="465.40" cy="50.10" r="1.9" fill="#cc0012"/>
<circle cx="483.30" cy="49.00" r="1.9" fill="#cc0012"/>
<circle cx="501.20" cy="48.40" r="1.9" fill="#cc0012"/>
<circle cx="518.80" cy="46.20" r="1.9" fill="#cc0012"/>
<circle cx="411.20" cy="55.00" r="1.9" fill="#cc0012"/>
<path d="M321.88,202.10v-2.0M321.88,14.80v2.0M344.29,202.10v-2.0M344.29,14.80v2.0M361.66,202.10v-2.0M361.66,14.80v2.0M375.86,202.10v-2.0M375.86,14.80v2.0M387.87,202.10v-2.0M387.87,14.80v2.0M398.27,202.10v-2.0M398.27,14.80v2.0M407.44,202.10v-2.0M407.44,14.80v2.0M415.65,202.10v-3.0M415.65,14.80v3.0M469.64,202.10v-2.0M469.64,14.80v2.0M501.21,202.10v-2.0M501.21,14.80v2.0M523.62,202.10v-2.0M523.62,14.80v2.0M290.30,183.95h2.0M541.00,183.95h-2.0M290.30,169.12h2.0M541.00,169.12h-2.0M290.30,156.58h2.0M541.00,156.58h-2.0M290.30,145.72h2.0M541.00,145.72h-2.0M290.30,136.14h2.0M541.00,136.14h-2.0M290.30,127.57h2.0M541.00,127.57h-2.0M290.30,71.18h2.0M541.00,71.18h-2.0M290.30,38.20h2.0M541.00,38.20h-2.0" stroke="#9696ec" stroke-width="1" fill="none"/>
<rect x="290.30" y="14.80" width="250.70" height="187.30" fill="none" stroke="#9696ec" stroke-width="1.3"/>
<text x="312.70" y="30.30" font-size="12.35" fill="#111" stroke="#111" stroke-width="0.22" text-anchor="start" >1.15&lt;Ne/O/0.157</text>
<path d="M396.70,155.50H411.30" stroke="#cc0012" stroke-width="1.3" stroke-opacity="0.45"/>
<circle cx="404.40" cy="155.50" r="1.75" fill="#cc0012"/>
<text x="413.50" y="159.20" font-size="10.4" fill="#cc0012" stroke="#cc0012" stroke-width="0.1" text-anchor="start" >8/9/2011</text>
<rect x="114.00" y="313.00" width="53.80" height="24.50" fill="#f3d0e6" stroke="#e9bcd8" stroke-width="0.7"/>
<path d="M28.20,324.87H279.80" stroke="#767676" stroke-width="1.05"/>
<path d="M77.40,309.50 L79.65,309.99 L81.90,310.48 L84.15,310.98 L86.40,311.49 L88.65,312.00 L90.90,312.52 L93.15,313.05 L95.40,313.60 L97.69,314.17 L99.98,314.75 L102.26,315.34 L104.55,315.91 L106.84,316.47 L109.12,317.01 L111.41,317.53 L113.70,318.00 L115.95,318.42 L118.20,318.79 L120.45,319.08 L122.70,319.29 L124.95,319.40 L127.20,319.40 L129.45,319.27 L131.70,319.00 L133.92,318.59 L136.15,318.07 L138.38,317.48 L140.60,316.87 L142.82,316.28 L145.05,315.74 L147.28,315.30 L149.50,315.00 L151.78,314.87 L154.05,314.89 L156.32,315.03 L158.60,315.24 L160.88,315.48 L163.15,315.71 L165.42,315.90 L167.70,316.00 L169.94,315.99 L172.17,315.89 L174.41,315.72 L176.65,315.51 L178.89,315.30 L181.12,315.11 L183.36,314.97 L185.60,314.90 L187.88,314.93 L190.15,315.05 L192.43,315.22 L194.70,315.42 L196.97,315.62 L199.25,315.81 L201.53,315.94 L203.80,316.00 L206.05,315.97 L208.30,315.86 L210.55,315.70 L212.80,315.52 L215.05,315.33 L217.30,315.17 L219.55,315.05 L221.80,315.00 L224.05,315.04 L226.30,315.14 L228.55,315.30 L230.80,315.49 L233.05,315.68 L235.30,315.87 L237.55,316.01 L239.80,316.10 L242.01,316.12 L244.23,316.07 L246.44,315.96 L248.65,315.80 L250.86,315.61 L253.07,315.39 L255.29,315.15 L257.50,314.90" stroke="#ff6e0a" stroke-width="0.9" fill="none" stroke-opacity="0.85"/>
<path d="M149.50,312.80V317.20M148.40,312.80h2.2M148.40,317.20h2.2M167.70,313.80V318.20M166.60,313.80h2.2M166.60,318.20h2.2M185.60,312.70V317.10M184.50,312.70h2.2M184.50,317.10h2.2M203.80,313.80V318.20M202.70,313.80h2.2M202.70,318.20h2.2M221.80,311.80V318.20M220.70,311.80h2.2M220.70,318.20h2.2M239.80,312.90V319.30M238.70,312.90h2.2M238.70,319.30h2.2M257.50,311.70V318.10M256.40,311.70h2.2M256.40,318.10h2.2" stroke="#ff6e0a" stroke-width="0.8" fill="none" stroke-opacity="0.72"/>
<circle cx="77.40" cy="309.50" r="1.9" fill="#ff6e0a"/>
<circle cx="95.40" cy="313.60" r="1.9" fill="#ff6e0a"/>
<circle cx="113.70" cy="318.00" r="1.9" fill="#ff6e0a"/>
<circle cx="131.70" cy="319.00" r="1.9" fill="#ff6e0a"/>
<circle cx="149.50" cy="315.00" r="1.9" fill="#ff6e0a"/>
<circle cx="167.70" cy="316.00" r="1.9" fill="#ff6e0a"/>
<circle cx="185.60" cy="314.90" r="1.9" fill="#ff6e0a"/>
<circle cx="203.80" cy="316.00" r="1.9" fill="#ff6e0a"/>
<circle cx="221.80" cy="315.00" r="1.9" fill="#ff6e0a"/>
<circle cx="239.80" cy="316.10" r="1.9" fill="#ff6e0a"/>
<circle cx="257.50" cy="314.90" r="1.9" fill="#ff6e0a"/>
<path d="M77.40,269.10 L79.65,271.07 L81.90,273.06 L84.15,275.08 L86.40,277.13 L88.65,279.24 L90.90,281.41 L93.15,283.66 L95.40,286.00 L97.69,288.48 L99.98,291.04 L102.26,293.65 L104.55,296.28 L106.84,298.90 L109.12,301.48 L111.41,303.99 L113.70,306.40 L115.95,308.65 L118.20,310.74 L120.45,312.66 L122.70,314.36 L124.95,315.83 L127.20,317.02 L129.45,317.92 L131.70,318.50 L133.92,318.74 L136.15,318.69 L138.38,318.42 L140.60,318.00 L142.82,317.48 L145.05,316.94 L147.28,316.42 L149.50,316.00 L151.78,315.72 L154.05,315.57 L156.32,315.51 L158.60,315.52 L160.88,315.56 L163.15,315.59 L165.42,315.58 L167.70,315.50 L169.94,315.33 L172.17,315.08 L174.41,314.80 L176.65,314.51 L178.89,314.25 L181.12,314.06 L183.36,313.96 L185.60,314.00 L187.88,314.19 L190.15,314.52 L192.43,314.93 L194.70,315.40 L196.97,315.88 L199.25,316.33 L201.53,316.72 L203.80,317.00 L206.05,317.15 L208.30,317.21 L210.55,317.23 L212.80,317.26 L215.05,317.35 L217.30,317.56 L219.55,317.92 L221.80,318.50 L224.05,319.33 L226.30,320.37 L228.55,321.58 L230.80,322.92 L233.05,324.34 L235.30,325.79 L237.55,327.22 L239.80,328.60 L242.01,329.86 L244.23,331.03 L246.44,332.13 L248.65,333.16 L250.86,334.14 L253.07,335.08 L255.29,336.00 L257.50,336.90" stroke="#046c0c" stroke-width="0.9" fill="none" stroke-opacity="0.85"/>
<path d="M149.50,313.80V318.20M148.40,313.80h2.2M148.40,318.20h2.2M167.70,313.30V317.70M166.60,313.30h2.2M166.60,317.70h2.2M185.60,311.80V316.20M184.50,311.80h2.2M184.50,316.20h2.2M203.80,314.80V319.20M202.70,314.80h2.2M202.70,319.20h2.2M221.80,315.30V321.70M220.70,315.30h2.2M220.70,321.70h2.2M239.80,325.40V331.80M238.70,325.40h2.2M238.70,331.80h2.2M257.50,333.70V340.10M256.40,333.70h2.2M256.40,340.10h2.2" stroke="#046c0c" stroke-width="0.8" fill="none" stroke-opacity="0.72"/>
<circle cx="77.40" cy="269.10" r="1.9" fill="#046c0c"/>
<circle cx="95.40" cy="286.00" r="1.9" fill="#046c0c"/>
<circle cx="113.70" cy="306.40" r="1.9" fill="#046c0c"/>
<circle cx="131.70" cy="318.50" r="1.9" fill="#046c0c"/>
<circle cx="149.50" cy="316.00" r="1.9" fill="#046c0c"/>
<circle cx="167.70" cy="315.50" r="1.9" fill="#046c0c"/>
<circle cx="185.60" cy="314.00" r="1.9" fill="#046c0c"/>
<circle cx="203.80" cy="317.00" r="1.9" fill="#046c0c"/>
<circle cx="221.80" cy="318.50" r="1.9" fill="#046c0c"/>
<circle cx="239.80" cy="328.60" r="1.9" fill="#046c0c"/>
<circle cx="257.50" cy="336.90" r="1.9" fill="#046c0c"/>
<path d="M77.40,292.20 L79.65,292.52 L81.90,292.85 L84.15,293.20 L86.40,293.60 L88.65,294.04 L90.90,294.55 L93.15,295.13 L95.40,295.80 L97.69,296.58 L99.98,297.46 L102.26,298.44 L104.55,299.50 L106.84,300.64 L109.12,301.86 L111.41,303.15 L113.70,304.50 L115.95,305.88 L118.20,307.28 L120.45,308.65 L122.70,309.95 L124.95,311.13 L127.20,312.17 L129.45,313.00 L131.70,313.60 L133.92,313.93 L136.15,314.06 L138.38,314.04 L140.60,313.95 L142.82,313.85 L145.05,313.82 L147.28,313.91 L149.50,314.20 L151.78,314.75 L154.05,315.51 L156.32,316.44 L158.60,317.48 L160.88,318.56 L163.15,319.65 L165.42,320.68 L167.70,321.60 L169.94,322.35 L172.17,322.95 L174.41,323.41 L176.65,323.74 L178.89,323.95 L181.12,324.06 L183.36,324.07 L185.60,324.00 L187.88,323.86 L190.15,323.65 L192.43,323.38 L194.70,323.07 L196.97,322.72 L199.25,322.33 L201.53,321.92 L203.80,321.50 L206.05,321.08 L208.30,320.65 L210.55,320.24 L212.80,319.83 L215.05,319.45 L217.30,319.10 L219.55,318.78 L221.80,318.50 L224.05,318.27 L226.30,318.07 L228.55,317.91 L230.80,317.77 L233.05,317.65 L235.30,317.53 L237.55,317.42 L239.80,317.30 L242.01,317.17 L244.23,317.03 L246.44,316.87 L248.65,316.71 L250.86,316.54 L253.07,316.36 L255.29,316.18 L257.50,316.00" stroke="#cc0012" stroke-width="0.9" fill="none" stroke-opacity="0.85"/>
<path d="M149.50,312.00V316.40M148.40,312.00h2.2M148.40,316.40h2.2M167.70,319.40V323.80M166.60,319.40h2.2M166.60,323.80h2.2M185.60,321.80V326.20M184.50,321.80h2.2M184.50,326.20h2.2M203.80,319.30V323.70M202.70,319.30h2.2M202.70,323.70h2.2M221.80,315.30V321.70M220.70,315.30h2.2M220.70,321.70h2.2M239.80,314.10V320.50M238.70,314.10h2.2M238.70,320.50h2.2M257.50,312.80V319.20M256.40,312.80h2.2M256.40,319.20h2.2" stroke="#cc0012" stroke-width="0.8" fill="none" stroke-opacity="0.72"/>
<circle cx="77.40" cy="292.20" r="1.9" fill="#cc0012"/>
<circle cx="95.40" cy="295.80" r="1.9" fill="#cc0012"/>
<circle cx="113.70" cy="304.50" r="1.9" fill="#cc0012"/>
<circle cx="131.70" cy="313.60" r="1.9" fill="#cc0012"/>
<circle cx="149.50" cy="314.20" r="1.9" fill="#cc0012"/>
<circle cx="167.70" cy="321.60" r="1.9" fill="#cc0012"/>
<circle cx="185.60" cy="324.00" r="1.9" fill="#cc0012"/>
<circle cx="203.80" cy="321.50" r="1.9" fill="#cc0012"/>
<circle cx="221.80" cy="318.50" r="1.9" fill="#cc0012"/>
<circle cx="239.80" cy="317.30" r="1.9" fill="#cc0012"/>
<circle cx="257.50" cy="316.00" r="1.9" fill="#cc0012"/>
<path d="M77.40,285.80 L79.65,286.98 L81.90,288.18 L84.15,289.38 L86.40,290.60 L88.65,291.85 L90.90,293.13 L93.15,294.44 L95.40,295.80 L97.69,297.23 L99.98,298.70 L102.26,300.19 L104.55,301.70 L106.84,303.20 L109.12,304.70 L111.41,306.17 L113.70,307.60 L115.95,308.96 L118.20,310.23 L120.45,311.39 L122.70,312.39 L124.95,313.21 L127.20,313.81 L129.45,314.15 L131.70,314.20 L133.92,313.95 L136.15,313.46 L138.38,312.82 L140.60,312.11 L142.82,311.39 L145.05,310.77 L147.28,310.31 L149.50,310.10 L151.78,310.20 L154.05,310.58 L156.32,311.17 L158.60,311.92 L160.88,312.75 L163.15,313.60 L165.42,314.40 L167.70,315.10 L169.94,315.63 L172.17,316.03 L174.41,316.31 L176.65,316.51 L178.89,316.65 L181.12,316.76 L183.36,316.87 L185.60,317.00 L187.88,317.18 L190.15,317.41 L192.43,317.66 L194.70,317.94 L196.97,318.22 L199.25,318.50 L201.53,318.76 L203.80,319.00 L206.05,319.20 L208.30,319.38 L210.55,319.55 L212.80,319.72 L215.05,319.92 L217.30,320.16 L219.55,320.45 L221.80,320.80 L224.05,321.23 L226.30,321.73 L228.55,322.27 L230.80,322.84 L233.05,323.43 L235.30,324.01 L237.55,324.58 L239.80,325.10 L242.01,325.57 L244.23,325.99 L246.44,326.37 L248.65,326.71 L250.86,327.03 L253.07,327.33 L255.29,327.62 L257.50,327.90" stroke="#5e4a12" stroke-width="0.9" fill="none" stroke-opacity="0.85"/>
<path d="M77.40,282.80V288.80M76.30,282.80h2.2M76.30,288.80h2.2M95.40,292.80V298.80M94.30,292.80h2.2M94.30,298.80h2.2M149.50,307.90V312.30M148.40,307.90h2.2M148.40,312.30h2.2M167.70,312.90V317.30M166.60,312.90h2.2M166.60,317.30h2.2M185.60,314.80V319.20M184.50,314.80h2.2M184.50,319.20h2.2M203.80,316.80V321.20M202.70,316.80h2.2M202.70,321.20h2.2M221.80,317.60V324.00M220.70,317.60h2.2M220.70,324.00h2.2M239.80,321.90V328.30M238.70,321.90h2.2M238.70,328.30h2.2M257.50,324.70V331.10M256.40,324.70h2.2M256.40,331.10h2.2M149.50,310.30V314.70M148.40,310.30h2.2M148.40,314.70h2.2" stroke="#5e4a12" stroke-width="0.8" fill="none" stroke-opacity="0.72"/>
<circle cx="77.40" cy="285.80" r="1.9" fill="#5e4a12"/>
<circle cx="95.40" cy="295.80" r="1.9" fill="#5e4a12"/>
<circle cx="113.70" cy="307.60" r="1.9" fill="#5e4a12"/>
<circle cx="131.70" cy="314.20" r="1.9" fill="#5e4a12"/>
<circle cx="149.50" cy="310.10" r="1.9" fill="#5e4a12"/>
<circle cx="167.70" cy="315.10" r="1.9" fill="#5e4a12"/>
<circle cx="185.60" cy="317.00" r="1.9" fill="#5e4a12"/>
<circle cx="203.80" cy="319.00" r="1.9" fill="#5e4a12"/>
<circle cx="221.80" cy="320.80" r="1.9" fill="#5e4a12"/>
<circle cx="239.80" cy="325.10" r="1.9" fill="#5e4a12"/>
<circle cx="257.50" cy="327.90" r="1.9" fill="#5e4a12"/>
<circle cx="149.50" cy="312.50" r="1.9" fill="#5e4a12"/>
<path d="M77.40,303.30 L79.65,303.56 L81.90,303.84 L84.15,304.12 L86.40,304.43 L88.65,304.76 L90.90,305.13 L93.15,305.54 L95.40,306.00 L97.69,306.52 L99.98,307.08 L102.26,307.67 L104.55,308.27 L106.84,308.87 L109.12,309.45 L111.41,310.00 L113.70,310.50 L115.95,310.93 L118.20,311.29 L120.45,311.55 L122.70,311.71 L124.95,311.75 L127.20,311.66 L129.45,311.41 L131.70,311.00 L133.92,310.43 L136.15,309.75 L138.38,309.04 L140.60,308.35 L142.82,307.75 L145.05,307.32 L147.28,307.11 L149.50,307.20 L151.78,307.64 L154.05,308.39 L156.32,309.36 L158.60,310.49 L160.88,311.68 L163.15,312.86 L165.42,313.96 L167.70,314.90 L169.94,315.61 L172.17,316.10 L174.41,316.42 L176.65,316.58 L178.89,316.60 L181.12,316.51 L183.36,316.34 L185.60,316.10 L187.88,315.82 L190.15,315.51 L192.43,315.17 L194.70,314.83 L196.97,314.48 L199.25,314.13 L201.53,313.81 L203.80,313.50 L206.05,313.23 L208.30,312.97 L210.55,312.72 L212.80,312.45 L215.05,312.16 L217.30,311.84 L219.55,311.45 L221.80,311.00 L224.05,310.47 L226.30,309.87 L228.55,309.21 L230.80,308.51 L233.05,307.77 L235.30,307.02 L237.55,306.26 L239.80,305.50 L242.01,304.77 L244.23,304.06 L246.44,303.36 L248.65,302.68 L250.86,302.00 L253.07,301.33 L255.29,300.66 L257.50,300.00" stroke="#a87e08" stroke-width="0.9" fill="none" stroke-opacity="0.85"/>
<path d="M149.50,305.00V309.40M148.40,305.00h2.2M148.40,309.40h2.2M167.70,312.70V317.10M166.60,312.70h2.2M166.60,317.10h2.2M185.60,313.90V318.30M184.50,313.90h2.2M184.50,318.30h2.2M203.80,311.30V315.70M202.70,311.30h2.2M202.70,315.70h2.2M221.80,307.00V315.00M220.70,307.00h2.2M220.70,315.00h2.2M239.80,300.20V310.80M238.70,300.20h2.2M238.70,310.80h2.2M257.50,291.60V308.40M256.40,291.60h2.2M256.40,308.40h2.2M149.50,298.50V302.90M148.40,298.50h2.2M148.40,302.90h2.2" stroke="#a87e08" stroke-width="0.8" fill="none" stroke-opacity="0.72"/>
<circle cx="77.40" cy="303.30" r="1.9" fill="#a87e08"/>
<circle cx="95.40" cy="306.00" r="1.9" fill="#a87e08"/>
<circle cx="113.70" cy="310.50" r="1.9" fill="#a87e08"/>
<circle cx="131.70" cy="311.00" r="1.9" fill="#a87e08"/>
<circle cx="149.50" cy="307.20" r="1.9" fill="#a87e08"/>
<circle cx="167.70" cy="314.90" r="1.9" fill="#a87e08"/>
<circle cx="185.60" cy="316.10" r="1.9" fill="#a87e08"/>
<circle cx="203.80" cy="313.50" r="1.9" fill="#a87e08"/>
<circle cx="221.80" cy="311.00" r="1.9" fill="#a87e08"/>
<circle cx="239.80" cy="305.50" r="1.9" fill="#a87e08"/>
<circle cx="257.50" cy="300.00" r="1.9" fill="#a87e08"/>
<circle cx="149.50" cy="300.70" r="1.9" fill="#a87e08"/>
<path d="M77.40,304.50 L79.65,305.16 L81.90,305.83 L84.15,306.51 L86.40,307.22 L88.65,307.97 L90.90,308.76 L93.15,309.60 L95.40,310.50 L97.69,311.48 L99.98,312.52 L102.26,313.61 L104.55,314.71 L106.84,315.83 L109.12,316.95 L111.41,318.04 L113.70,319.10 L115.95,320.09 L118.20,320.99 L120.45,321.78 L122.70,322.41 L124.95,322.86 L127.20,323.08 L129.45,323.03 L131.70,322.70 L133.92,322.06 L136.15,321.19 L138.38,320.17 L140.60,319.07 L142.82,317.99 L145.05,317.01 L147.28,316.22 L149.50,315.70 L151.78,315.51 L154.05,315.63 L156.32,316.00 L158.60,316.55 L160.88,317.25 L163.15,318.01 L165.42,318.78 L167.70,319.50 L169.94,320.11 L172.17,320.63 L174.41,321.05 L176.65,321.39 L178.89,321.65 L181.12,321.83 L183.36,321.94 L185.60,322.00 L187.88,322.00 L190.15,321.95 L192.43,321.85 L194.70,321.71 L196.97,321.53 L199.25,321.32 L201.53,321.07 L203.80,320.80 L206.05,320.51 L208.30,320.20 L210.55,319.87 L212.80,319.53 L215.05,319.17 L217.30,318.79 L219.55,318.40 L221.80,318.00 L224.05,317.59 L226.30,317.15 L228.55,316.69 L230.80,316.20 L233.05,315.66 L235.30,315.07 L237.55,314.42 L239.80,313.70 L242.01,312.92 L244.23,312.08 L246.44,311.19 L248.65,310.24 L250.86,309.26 L253.07,308.26 L255.29,307.23 L257.50,306.20" stroke="#0808cc" stroke-width="0.9" fill="none" stroke-opacity="0.85"/>
<path d="M149.50,313.50V317.90M148.40,313.50h2.2M148.40,317.90h2.2M167.70,317.30V321.70M166.60,317.30h2.2M166.60,321.70h2.2M185.60,319.80V324.20M184.50,319.80h2.2M184.50,324.20h2.2M203.80,318.60V323.00M202.70,318.60h2.2M202.70,323.00h2.2M221.80,314.80V321.20M220.70,314.80h2.2M220.70,321.20h2.2M239.80,310.50V316.90M238.70,310.50h2.2M238.70,316.90h2.2M257.50,303.00V309.40M256.40,303.00h2.2M256.40,309.40h2.2" stroke="#0808cc" stroke-width="0.8" fill="none" stroke-opacity="0.72"/>
<circle cx="77.40" cy="304.50" r="1.9" fill="#0808cc"/>
<circle cx="95.40" cy="310.50" r="1.9" fill="#0808cc"/>
<circle cx="113.70" cy="319.10" r="1.9" fill="#0808cc"/>
<circle cx="131.70" cy="322.70" r="1.9" fill="#0808cc"/>
<circle cx="149.50" cy="315.70" r="1.9" fill="#0808cc"/>
<circle cx="167.70" cy="319.50" r="1.9" fill="#0808cc"/>
<circle cx="185.60" cy="322.00" r="1.9" fill="#0808cc"/>
<circle cx="203.80" cy="320.80" r="1.9" fill="#0808cc"/>
<circle cx="221.80" cy="318.00" r="1.9" fill="#0808cc"/>
<circle cx="239.80" cy="313.70" r="1.9" fill="#0808cc"/>
<circle cx="257.50" cy="306.20" r="1.9" fill="#0808cc"/>
<path d="M77.40,312.70 L79.65,314.19 L81.90,315.68 L84.15,317.15 L86.40,318.60 L88.65,320.02 L90.90,321.39 L93.15,322.72 L95.40,324.00 L97.69,325.23 L99.98,326.39 L102.26,327.47 L104.55,328.45 L106.84,329.33 L109.12,330.11 L111.41,330.77 L113.70,331.30 L115.95,331.69 L118.20,331.93 L120.45,332.02 L122.70,331.92 L124.95,331.64 L127.20,331.15 L129.45,330.44 L131.70,329.50 L133.92,328.34 L136.15,327.02 L138.38,325.63 L140.60,324.26 L142.82,322.99 L145.05,321.92 L147.28,321.12 L149.50,320.70 L151.78,320.71 L154.05,321.13 L156.32,321.87 L158.60,322.87 L160.88,324.06 L163.15,325.36 L165.42,326.70 L167.70,328.00 L169.94,329.19 L172.17,330.25 L174.41,331.19 L176.65,331.99 L178.89,332.63 L181.12,333.10 L183.36,333.40 L185.60,333.50 L187.88,333.40 L190.15,333.12 L192.43,332.70 L194.70,332.15 L196.97,331.53 L199.25,330.86 L201.53,330.17 L203.80,329.50 L206.05,328.88 L208.30,328.29 L210.55,327.73 L212.80,327.19 L215.05,326.65 L217.30,326.12 L219.55,325.57 L221.80,325.00 L224.05,324.40 L226.30,323.78 L228.55,323.16 L230.80,322.54 L233.05,321.95 L235.30,321.38 L237.55,320.86 L239.80,320.40 L242.01,320.01 L244.23,319.68 L246.44,319.41 L248.65,319.17 L250.86,318.98 L253.07,318.80 L255.29,318.65 L257.50,318.50" stroke="#7a12d8" stroke-width="0.9" fill="none" stroke-opacity="0.85"/>
<path d="M149.50,318.50V322.90M148.40,318.50h2.2M148.40,322.90h2.2M167.70,325.80V330.20M166.60,325.80h2.2M166.60,330.20h2.2M185.60,331.30V335.70M184.50,331.30h2.2M184.50,335.70h2.2M203.80,327.30V331.70M202.70,327.30h2.2M202.70,331.70h2.2M221.80,321.80V328.20M220.70,321.80h2.2M220.70,328.20h2.2M239.80,317.20V323.60M238.70,317.20h2.2M238.70,323.60h2.2M257.50,315.30V321.70M256.40,315.30h2.2M256.40,321.70h2.2" stroke="#7a12d8" stroke-width="0.8" fill="none" stroke-opacity="0.72"/>
<circle cx="77.40" cy="312.70" r="1.9" fill="#7a12d8"/>
<circle cx="95.40" cy="324.00" r="1.9" fill="#7a12d8"/>
<circle cx="113.70" cy="331.30" r="1.9" fill="#7a12d8"/>
<circle cx="131.70" cy="329.50" r="1.9" fill="#7a12d8"/>
<circle cx="149.50" cy="320.70" r="1.9" fill="#7a12d8"/>
<circle cx="167.70" cy="328.00" r="1.9" fill="#7a12d8"/>
<circle cx="185.60" cy="333.50" r="1.9" fill="#7a12d8"/>
<circle cx="203.80" cy="329.50" r="1.9" fill="#7a12d8"/>
<circle cx="221.80" cy="325.00" r="1.9" fill="#7a12d8"/>
<circle cx="239.80" cy="320.40" r="1.9" fill="#7a12d8"/>
<circle cx="257.50" cy="318.50" r="1.9" fill="#7a12d8"/>
<path d="M77.40,315.50 L79.65,316.56 L81.90,317.61 L84.15,318.66 L86.40,319.69 L88.65,320.71 L90.90,321.70 L93.15,322.67 L95.40,323.60 L97.69,324.52 L99.98,325.40 L102.26,326.27 L104.55,327.11 L106.84,327.95 L109.12,328.79 L111.41,329.64 L113.70,330.50 L115.95,331.35 L118.20,332.17 L120.45,332.90 L122.70,333.47 L124.95,333.83 L127.20,333.93 L129.45,333.71 L131.70,333.10 L133.92,332.10 L136.15,330.80 L138.38,329.32 L140.60,327.77 L142.82,326.30 L145.05,325.01 L147.28,324.04 L149.50,323.50 L151.78,323.49 L154.05,323.94 L156.32,324.75 L158.60,325.79 L160.88,326.95 L163.15,328.12 L165.42,329.17 L167.70,330.00 L169.94,330.51 L172.17,330.74 L174.41,330.78 L176.65,330.67 L178.89,330.50 L181.12,330.32 L183.36,330.20 L185.60,330.20 L187.88,330.38 L190.15,330.70 L192.43,331.10 L194.70,331.54 L196.97,331.95 L199.25,332.28 L201.53,332.49 L203.80,332.50 L206.05,332.30 L208.30,331.94 L210.55,331.53 L212.80,331.13 L215.05,330.84 L217.30,330.75 L219.55,330.94 L221.80,331.50 L224.05,332.47 L226.30,333.74 L228.55,335.14 L230.80,336.52 L233.05,337.72 L235.30,338.57 L237.55,338.92 L239.80,338.60 L242.01,337.53 L244.23,335.76 L246.44,333.40 L248.65,330.53 L250.86,327.27 L253.07,323.72 L255.29,319.96 L257.50,316.10" stroke="#08b2f6" stroke-width="0.9" fill="none" stroke-opacity="0.85"/>
<path d="M149.50,321.30V325.70M148.40,321.30h2.2M148.40,325.70h2.2M167.70,327.80V332.20M166.60,327.80h2.2M166.60,332.20h2.2M185.60,328.00V332.40M184.50,328.00h2.2M184.50,332.40h2.2M203.80,330.30V334.70M202.70,330.30h2.2M202.70,334.70h2.2M221.80,328.30V334.70M220.70,328.30h2.2M220.70,334.70h2.2M239.80,331.00V354.00M238.70,331.00h2.2M238.70,354.00h2.2M257.50,311.10V321.10M256.40,311.10h2.2M256.40,321.10h2.2" stroke="#08b2f6" stroke-width="0.8" fill="none" stroke-opacity="0.72"/>
<circle cx="77.40" cy="315.50" r="1.9" fill="#08b2f6"/>
<circle cx="95.40" cy="323.60" r="1.9" fill="#08b2f6"/>
<circle cx="113.70" cy="330.50" r="1.9" fill="#08b2f6"/>
<circle cx="131.70" cy="333.10" r="1.9" fill="#08b2f6"/>
<circle cx="149.50" cy="323.50" r="1.9" fill="#08b2f6"/>
<circle cx="167.70" cy="330.00" r="1.9" fill="#08b2f6"/>
<circle cx="185.60" cy="330.20" r="1.9" fill="#08b2f6"/>
<circle cx="203.80" cy="332.50" r="1.9" fill="#08b2f6"/>
<circle cx="221.80" cy="331.50" r="1.9" fill="#08b2f6"/>
<circle cx="239.80" cy="338.60" r="1.9" fill="#08b2f6"/>
<circle cx="257.50" cy="316.10" r="1.9" fill="#08b2f6"/>
<path d="M77.40,317.30 L79.65,318.16 L81.90,319.03 L84.15,319.90 L86.40,320.78 L88.65,321.68 L90.90,322.60 L93.15,323.54 L95.40,324.50 L97.69,325.51 L99.98,326.53 L102.26,327.56 L104.55,328.59 L106.84,329.60 L109.12,330.58 L111.41,331.51 L113.70,332.40 L115.95,333.21 L118.20,333.92 L120.45,334.52 L122.70,334.99 L124.95,335.28 L127.20,335.38 L129.45,335.26 L131.70,334.90 L133.92,334.29 L136.15,333.49 L138.38,332.57 L140.60,331.61 L142.82,330.68 L145.05,329.85 L147.28,329.20 L149.50,328.80 L151.78,328.71 L154.05,328.91 L156.32,329.34 L158.60,329.96 L160.88,330.72 L163.15,331.57 L165.42,332.44 L167.70,333.30 L169.94,334.09 L172.17,334.80 L174.41,335.46 L176.65,336.05 L178.89,336.58 L181.12,337.05 L183.36,337.45 L185.60,337.80 L187.88,338.10 L190.15,338.34 L192.43,338.55 L194.70,338.74 L196.97,338.92 L199.25,339.10 L201.53,339.29 L203.80,339.50 L206.05,339.74 L208.30,340.02 L210.55,340.31 L212.80,340.62 L215.05,340.93 L217.30,341.23 L219.55,341.53 L221.80,341.80 L224.05,342.05 L226.30,342.25 L228.55,342.41 L230.80,342.51 L233.05,342.54 L235.30,342.49 L237.55,342.35 L239.80,342.10 L242.01,341.75 L244.23,341.31 L246.44,340.78 L248.65,340.19 L250.86,339.54 L253.07,338.85 L255.29,338.13 L257.50,337.40" stroke="#08f008" stroke-width="0.9" fill="none" stroke-opacity="0.85"/>
<path d="M149.50,326.60V331.00M148.40,326.60h2.2M148.40,331.00h2.2M167.70,331.10V335.50M166.60,331.10h2.2M166.60,335.50h2.2M185.60,335.60V340.00M184.50,335.60h2.2M184.50,340.00h2.2M203.80,337.30V341.70M202.70,337.30h2.2M202.70,341.70h2.2M221.80,337.80V345.80M220.70,337.80h2.2M220.70,345.80h2.2M239.80,338.10V346.10M238.70,338.10h2.2M238.70,346.10h2.2M257.50,333.40V341.40M256.40,333.40h2.2M256.40,341.40h2.2" stroke="#08f008" stroke-width="0.8" fill="none" stroke-opacity="0.72"/>
<circle cx="77.40" cy="317.30" r="1.9" fill="#08f008"/>
<circle cx="95.40" cy="324.50" r="1.9" fill="#08f008"/>
<circle cx="113.70" cy="332.40" r="1.9" fill="#08f008"/>
<circle cx="131.70" cy="334.90" r="1.9" fill="#08f008"/>
<circle cx="149.50" cy="328.80" r="1.9" fill="#08f008"/>
<circle cx="167.70" cy="333.30" r="1.9" fill="#08f008"/>
<circle cx="185.60" cy="337.80" r="1.9" fill="#08f008"/>
<circle cx="203.80" cy="339.50" r="1.9" fill="#08f008"/>
<circle cx="221.80" cy="341.80" r="1.9" fill="#08f008"/>
<circle cx="239.80" cy="342.10" r="1.9" fill="#08f008"/>
<circle cx="257.50" cy="337.40" r="1.9" fill="#08f008"/>
<path d="M77.40,321.30 L79.65,322.51 L81.90,323.71 L84.15,324.88 L86.40,326.02 L88.65,327.12 L90.90,328.15 L93.15,329.12 L95.40,330.00 L97.69,330.81 L99.98,331.53 L102.26,332.18 L104.55,332.78 L106.84,333.34 L109.12,333.87 L111.41,334.38 L113.70,334.90 L115.95,335.42 L118.20,335.92 L120.45,336.39 L122.70,336.80 L124.95,337.12 L127.20,337.32 L129.45,337.39 L131.70,337.30 L133.92,337.03 L136.15,336.64 L138.38,336.16 L140.60,335.64 L142.82,335.15 L145.05,334.73 L147.28,334.43 L149.50,334.30 L151.78,334.38 L154.05,334.65 L156.32,335.05 L158.60,335.54 L160.88,336.07 L163.15,336.59 L165.42,337.05 L167.70,337.40 L169.94,337.60 L172.17,337.68 L174.41,337.64 L176.65,337.51 L178.89,337.31 L181.12,337.06 L183.36,336.79 L185.60,336.50 L187.88,336.22 L190.15,335.95 L192.43,335.70 L194.70,335.47 L196.97,335.27 L199.25,335.08 L201.53,334.93 L203.80,334.80 L206.05,334.71 L208.30,334.65 L210.55,334.64 L212.80,334.68 L215.05,334.78 L217.30,334.95 L219.55,335.18 L221.80,335.50 L224.05,335.90 L226.30,336.37 L228.55,336.89 L230.80,337.44 L233.05,338.02 L235.30,338.60 L237.55,339.16 L239.80,339.70 L242.01,340.19 L244.23,340.63 L246.44,341.04 L248.65,341.43 L250.86,341.79 L253.07,342.14 L255.29,342.47 L257.50,342.80" stroke="#e4046e" stroke-width="0.9" fill="none" stroke-opacity="0.85"/>
<path d="M149.50,330.30V338.30M148.40,330.30h2.2M148.40,338.30h2.2M167.70,335.20V339.60M166.60,335.20h2.2M166.60,339.60h2.2M185.60,334.30V338.70M184.50,334.30h2.2M184.50,338.70h2.2M203.80,332.60V337.00M202.70,332.60h2.2M202.70,337.00h2.2M221.80,332.30V338.70M220.70,332.30h2.2M220.70,338.70h2.2M239.80,335.70V343.70M238.70,335.70h2.2M238.70,343.70h2.2M257.50,336.50V349.10M256.40,336.50h2.2M256.40,349.10h2.2M149.50,339.20V347.20M148.40,339.20h2.2M148.40,347.20h2.2" stroke="#e4046e" stroke-width="0.8" fill="none" stroke-opacity="0.72"/>
<circle cx="77.40" cy="321.30" r="1.9" fill="#e4046e"/>
<circle cx="95.40" cy="330.00" r="1.9" fill="#e4046e"/>
<circle cx="113.70" cy="334.90" r="1.9" fill="#e4046e"/>
<circle cx="131.70" cy="337.30" r="1.9" fill="#e4046e"/>
<circle cx="149.50" cy="334.30" r="1.9" fill="#e4046e"/>
<circle cx="167.70" cy="337.40" r="1.9" fill="#e4046e"/>
<circle cx="185.60" cy="336.50" r="1.9" fill="#e4046e"/>
<circle cx="203.80" cy="334.80" r="1.9" fill="#e4046e"/>
<circle cx="221.80" cy="335.50" r="1.9" fill="#e4046e"/>
<circle cx="239.80" cy="339.70" r="1.9" fill="#e4046e"/>
<circle cx="257.50" cy="342.80" r="1.9" fill="#e4046e"/>
<circle cx="149.50" cy="343.20" r="1.9" fill="#e4046e"/>
<path d="M59.89,399.80v-2.0M59.89,211.50v2.0M82.38,399.80v-2.0M82.38,211.50v2.0M99.82,399.80v-2.0M99.82,211.50v2.0M114.07,399.80v-2.0M114.07,211.50v2.0M126.12,399.80v-2.0M126.12,211.50v2.0M136.56,399.80v-2.0M136.56,211.50v2.0M145.76,399.80v-2.0M145.76,211.50v2.0M154.00,399.80v-3.0M154.00,211.50v3.0M208.18,399.80v-2.0M208.18,211.50v2.0M239.87,399.80v-2.0M239.87,211.50v2.0M262.36,399.80v-2.0M262.36,211.50v2.0M28.20,381.55h2.0M279.80,381.55h-2.0M28.20,366.64h2.0M279.80,366.64h-2.0M28.20,354.04h2.0M279.80,354.04h-2.0M28.20,343.12h2.0M279.80,343.12h-2.0M28.20,333.48h2.0M279.80,333.48h-2.0M28.20,324.87h2.0M279.80,324.87h-2.0M28.20,268.18h2.0M279.80,268.18h-2.0M28.20,235.03h2.0M279.80,235.03h-2.0" stroke="#9696ec" stroke-width="1" fill="none"/>
<rect x="28.20" y="211.50" width="251.60" height="188.30" fill="none" stroke="#9696ec" stroke-width="1.3"/>
<text x="25.60" y="401.70" font-size="8" fill="#222" stroke="#222" stroke-width="0.1" text-anchor="end" >0.4</text>
<text x="25.60" y="383.45" font-size="8" fill="#222" stroke="#222" stroke-width="0.1" text-anchor="end" >0.5</text>
<text x="25.60" y="368.54" font-size="8" fill="#222" stroke="#222" stroke-width="0.1" text-anchor="end" >0.6</text>
<text x="25.60" y="355.94" font-size="8" fill="#222" stroke="#222" stroke-width="0.1" text-anchor="end" >0.7</text>
<text x="25.60" y="345.02" font-size="8" fill="#222" stroke="#222" stroke-width="0.1" text-anchor="end" >0.8</text>
<text x="25.60" y="335.38" font-size="8" fill="#222" stroke="#222" stroke-width="0.1" text-anchor="end" >0.9</text>
<text x="25.60" y="326.77" font-size="8" fill="#222" stroke="#222" stroke-width="0.1" text-anchor="end" >1</text>
<text x="25.60" y="270.08" font-size="8" fill="#222" stroke="#222" stroke-width="0.1" text-anchor="end" >2</text>
<text x="25.60" y="236.93" font-size="8" fill="#222" stroke="#222" stroke-width="0.1" text-anchor="end" >3</text>
<text x="0" y="0" font-size="9" fill="#111" stroke="#111" stroke-width="0.15" text-anchor="middle" transform="translate(8.2,302.30) rotate(-90)">Ne/O/0.157</text>
<text x="40.90" y="228.30" font-size="12.35" fill="#111" stroke="#111" stroke-width="0.22" text-anchor="start" >0.85&lt;Ne/O/0.157&lt;1.15</text>
<path d="M45.10,351.40H59.60" stroke="#cc0012" stroke-width="1.3" stroke-opacity="0.45"/>
<circle cx="53.10" cy="351.40" r="1.75" fill="#cc0012"/>
<text x="62.10" y="355.10" font-size="10.4" fill="#cc0012" stroke="#cc0012" stroke-width="0.1" text-anchor="start" >11/4/1997</text>
<path d="M45.10,361.40H59.60" stroke="#ff6e0a" stroke-width="1.3" stroke-opacity="0.45"/>
<circle cx="53.10" cy="361.40" r="1.75" fill="#ff6e0a"/>
<text x="62.10" y="365.10" font-size="10.4" fill="#ff6e0a" stroke="#ff6e0a" stroke-width="0.1" text-anchor="start" >9/30/1998</text>
<path d="M45.10,371.40H59.60" stroke="#046c0c" stroke-width="1.3" stroke-opacity="0.45"/>
<circle cx="53.10" cy="371.40" r="1.75" fill="#046c0c"/>
<text x="62.10" y="375.10" font-size="10.4" fill="#046c0c" stroke="#046c0c" stroke-width="0.1" text-anchor="start" >7/14/2000</text>
<path d="M45.10,381.40H59.60" stroke="#0808cc" stroke-width="1.3" stroke-opacity="0.45"/>
<circle cx="53.10" cy="381.40" r="1.75" fill="#0808cc"/>
<text x="62.10" y="385.10" font-size="10.4" fill="#0808cc" stroke="#0808cc" stroke-width="0.1" text-anchor="start" >4/15/2001</text>
<path d="M45.10,391.40H59.60" stroke="#7a12d8" stroke-width="1.3" stroke-opacity="0.45"/>
<circle cx="53.10" cy="391.40" r="1.75" fill="#7a12d8"/>
<text x="62.10" y="395.10" font-size="10.4" fill="#7a12d8" stroke="#7a12d8" stroke-width="0.1" text-anchor="start" >4/18/2001</text>
<path d="M118.00,351.40H132.50" stroke="#e4046e" stroke-width="1.3" stroke-opacity="0.45"/>
<circle cx="125.60" cy="351.40" r="1.75" fill="#e4046e"/>
<text x="134.30" y="355.10" font-size="10.4" fill="#e4046e" stroke="#e4046e" stroke-width="0.1" text-anchor="start" >8/15/2001</text>
<path d="M118.00,361.40H132.50" stroke="#08b2f6" stroke-width="1.3" stroke-opacity="0.45"/>
<circle cx="125.60" cy="361.40" r="1.75" fill="#08b2f6"/>
<text x="134.30" y="365.10" font-size="10.4" fill="#08b2f6" stroke="#08b2f6" stroke-width="0.1" text-anchor="start" >8/24/2002</text>
<path d="M118.00,371.40H132.50" stroke="#08f008" stroke-width="1.3" stroke-opacity="0.45"/>
<circle cx="125.60" cy="371.40" r="1.75" fill="#08f008"/>
<text x="134.30" y="375.10" font-size="10.4" fill="#08f008" stroke="#08f008" stroke-width="0.1" text-anchor="start" >10/26/2003</text>
<path d="M118.00,381.40H132.50" stroke="#a87e08" stroke-width="1.3" stroke-opacity="0.45"/>
<circle cx="125.60" cy="381.40" r="1.75" fill="#a87e08"/>
<text x="134.30" y="385.10" font-size="10.4" fill="#a87e08" stroke="#a87e08" stroke-width="0.1" text-anchor="start" >1/15/2005</text>
<path d="M118.00,391.40H132.50" stroke="#5e4a12" stroke-width="1.3" stroke-opacity="0.45"/>
<circle cx="125.60" cy="391.40" r="1.75" fill="#5e4a12"/>
<text x="134.30" y="395.10" font-size="10.4" fill="#5e4a12" stroke="#5e4a12" stroke-width="0.1" text-anchor="start" >1/17/2005</text>
<rect x="376.00" y="313.00" width="54.00" height="24.50" fill="#f3d0e6" stroke="#e9bcd8" stroke-width="0.7"/>
<path d="M290.60,324.81H542.40" stroke="#767676" stroke-width="1.05"/>
<path d="M339.60,316.00 L341.85,316.99 L344.10,317.98 L346.35,318.98 L348.60,319.97 L350.85,320.97 L353.10,321.98 L355.35,322.99 L357.60,324.00 L359.89,325.04 L362.18,326.08 L364.46,327.13 L366.75,328.18 L369.04,329.23 L371.32,330.29 L373.61,331.34 L375.90,332.40 L378.15,333.43 L380.40,334.42 L382.65,335.33 L384.90,336.12 L387.15,336.75 L389.40,337.19 L391.65,337.38 L393.90,337.30 L396.14,336.93 L398.38,336.36 L400.61,335.70 L402.85,335.06 L405.09,334.56 L407.32,334.31 L409.56,334.42 L411.80,335.00 L414.03,336.12 L416.25,337.68 L418.48,339.56 L420.70,341.62 L422.93,343.73 L425.15,345.75 L427.38,347.55 L429.60,349.00 L431.90,350.03 L434.20,350.63 L436.50,350.88 L438.80,350.87 L441.10,350.70 L443.40,350.43 L445.70,350.17 L448.00,350.00 L450.27,349.98 L452.55,350.09 L454.82,350.28 L457.10,350.51 L459.38,350.74 L461.65,350.93 L463.93,351.03 L466.20,351.00 L468.47,350.82 L470.75,350.52 L473.02,350.17 L475.30,349.82 L477.57,349.54 L479.85,349.39 L482.12,349.42 L484.40,349.70 L486.61,350.23 L488.82,350.95 L491.04,351.75 L493.25,352.52 L495.46,353.17 L497.68,353.58 L499.89,353.66 L502.10,353.30 L504.35,352.40 L506.60,351.02 L508.85,349.21 L511.10,347.05 L513.35,344.61 L515.60,341.96 L517.85,339.16 L520.10,336.30" stroke="#ff6e0a" stroke-width="0.9" fill="none" stroke-opacity="0.85"/>
<path d="M411.80,332.80V337.20M410.70,332.80h2.2M410.70,337.20h2.2M429.60,346.80V351.20M428.50,346.80h2.2M428.50,351.20h2.2M448.00,347.80V352.20M446.90,347.80h2.2M446.90,352.20h2.2M466.20,348.80V353.20M465.10,348.80h2.2M465.10,353.20h2.2M484.40,346.50V352.90M483.30,346.50h2.2M483.30,352.90h2.2M502.10,347.30V359.30M501.00,347.30h2.2M501.00,359.30h2.2M520.10,328.30V344.30M519.00,328.30h2.2M519.00,344.30h2.2" stroke="#ff6e0a" stroke-width="0.8" fill="none" stroke-opacity="0.72"/>
<circle cx="339.60" cy="316.00" r="1.9" fill="#ff6e0a"/>
<circle cx="357.60" cy="324.00" r="1.9" fill="#ff6e0a"/>
<circle cx="375.90" cy="332.40" r="1.9" fill="#ff6e0a"/>
<circle cx="393.90" cy="337.30" r="1.9" fill="#ff6e0a"/>
<circle cx="411.80" cy="335.00" r="1.9" fill="#ff6e0a"/>
<circle cx="429.60" cy="349.00" r="1.9" fill="#ff6e0a"/>
<circle cx="448.00" cy="350.00" r="1.9" fill="#ff6e0a"/>
<circle cx="466.20" cy="351.00" r="1.9" fill="#ff6e0a"/>
<circle cx="484.40" cy="349.70" r="1.9" fill="#ff6e0a"/>
<circle cx="502.10" cy="353.30" r="1.9" fill="#ff6e0a"/>
<circle cx="520.10" cy="336.30" r="1.9" fill="#ff6e0a"/>
<path d="M339.60,317.00 L341.85,317.90 L344.10,318.82 L346.35,319.75 L348.60,320.70 L350.85,321.70 L353.10,322.74 L355.35,323.84 L357.60,325.00 L359.89,326.25 L362.18,327.56 L364.46,328.91 L366.75,330.28 L369.04,331.65 L371.32,333.01 L373.61,334.33 L375.90,335.60 L378.15,336.77 L380.40,337.84 L382.65,338.76 L384.90,339.48 L387.15,339.98 L389.40,340.21 L391.65,340.13 L393.90,339.70 L396.14,338.92 L398.38,337.87 L400.61,336.69 L402.85,335.51 L405.09,334.44 L407.32,333.62 L409.56,333.16 L411.80,333.20 L414.03,333.81 L416.25,334.91 L418.48,336.38 L420.70,338.10 L422.93,339.94 L425.15,341.79 L427.38,343.52 L429.60,345.00 L431.90,346.18 L434.20,347.02 L436.50,347.56 L438.80,347.85 L441.10,347.94 L443.40,347.86 L445.70,347.66 L448.00,347.40 L450.27,347.11 L452.55,346.80 L454.82,346.48 L457.10,346.16 L459.38,345.84 L461.65,345.54 L463.93,345.26 L466.20,345.00 L468.47,344.77 L470.75,344.55 L473.02,344.32 L475.30,344.04 L477.57,343.70 L479.85,343.26 L482.12,342.70 L484.40,342.00 L486.61,341.16 L488.82,340.20 L491.04,339.12 L493.25,337.98 L495.46,336.78 L497.68,335.57 L499.89,334.37 L502.10,333.20 L504.35,332.08 L506.60,331.01 L508.85,330.00 L511.10,329.03 L513.35,328.09 L515.60,327.18 L517.85,326.29 L520.10,325.40" stroke="#046c0c" stroke-width="0.9" fill="none" stroke-opacity="0.85"/>
<path d="M411.80,331.00V335.40M410.70,331.00h2.2M410.70,335.40h2.2M429.60,342.80V347.20M428.50,342.80h2.2M428.50,347.20h2.2M448.00,345.20V349.60M446.90,345.20h2.2M446.90,349.60h2.2M466.20,342.80V347.20M465.10,342.80h2.2M465.10,347.20h2.2M484.40,337.00V347.00M483.30,337.00h2.2M483.30,347.00h2.2M502.10,328.20V338.20M501.00,328.20h2.2M501.00,338.20h2.2M520.10,320.40V330.40M519.00,320.40h2.2M519.00,330.40h2.2" stroke="#046c0c" stroke-width="0.8" fill="none" stroke-opacity="0.72"/>
<circle cx="339.60" cy="317.00" r="1.9" fill="#046c0c"/>
<circle cx="357.60" cy="325.00" r="1.9" fill="#046c0c"/>
<circle cx="375.90" cy="335.60" r="1.9" fill="#046c0c"/>
<circle cx="393.90" cy="339.70" r="1.9" fill="#046c0c"/>
<circle cx="411.80" cy="333.20" r="1.9" fill="#046c0c"/>
<circle cx="429.60" cy="345.00" r="1.9" fill="#046c0c"/>
<circle cx="448.00" cy="347.40" r="1.9" fill="#046c0c"/>
<circle cx="466.20" cy="345.00" r="1.9" fill="#046c0c"/>
<circle cx="484.40" cy="342.00" r="1.9" fill="#046c0c"/>
<circle cx="502.10" cy="333.20" r="1.9" fill="#046c0c"/>
<circle cx="520.10" cy="325.40" r="1.9" fill="#046c0c"/>
<path d="M339.60,313.60 L341.85,314.59 L344.10,315.60 L346.35,316.63 L348.60,317.70 L350.85,318.82 L353.10,320.00 L355.35,321.26 L357.60,322.60 L359.89,324.06 L362.18,325.60 L364.46,327.18 L366.75,328.78 L369.04,330.37 L371.32,331.92 L373.61,333.41 L375.90,334.80 L378.15,336.05 L380.40,337.20 L382.65,338.24 L384.90,339.19 L387.15,340.05 L389.40,340.83 L391.65,341.55 L393.90,342.20 L396.14,342.80 L398.38,343.36 L400.61,343.89 L402.85,344.40 L405.09,344.90 L407.32,345.41 L409.56,345.94 L411.80,346.50 L414.03,347.09 L416.25,347.69 L418.48,348.29 L420.70,348.85 L422.93,349.36 L425.15,349.79 L427.38,350.11 L429.60,350.30 L431.90,350.35 L434.20,350.27 L436.50,350.10 L438.80,349.87 L441.10,349.62 L443.40,349.38 L445.70,349.20 L448.00,349.10 L450.27,349.11 L452.55,349.22 L454.82,349.39 L457.10,349.60 L459.38,349.82 L461.65,350.03 L463.93,350.20 L466.20,350.30 L468.47,350.32 L470.75,350.25 L473.02,350.12 L475.30,349.92 L477.57,349.68 L479.85,349.41 L482.12,349.11 L484.40,348.80" stroke="#7a12d8" stroke-width="0.9" fill="none" stroke-opacity="0.85"/>
<path d="M411.80,340.50V352.50M410.70,340.50h2.2M410.70,352.50h2.2M429.60,344.80V355.80M428.50,344.80h2.2M428.50,355.80h2.2M448.00,341.10V357.10M446.90,341.10h2.2M446.90,357.10h2.2M466.20,340.80V359.80M465.10,340.80h2.2M465.10,359.80h2.2M484.40,335.80V361.80M483.30,335.80h2.2M483.30,361.80h2.2M411.80,334.50V346.50M410.70,334.50h2.2M410.70,346.50h2.2" stroke="#7a12d8" stroke-width="0.8" fill="none" stroke-opacity="0.72"/>
<circle cx="339.60" cy="313.60" r="1.9" fill="#7a12d8"/>
<circle cx="357.60" cy="322.60" r="1.9" fill="#7a12d8"/>
<circle cx="375.90" cy="334.80" r="1.9" fill="#7a12d8"/>
<circle cx="393.90" cy="342.20" r="1.9" fill="#7a12d8"/>
<circle cx="411.80" cy="346.50" r="1.9" fill="#7a12d8"/>
<circle cx="429.60" cy="350.30" r="1.9" fill="#7a12d8"/>
<circle cx="448.00" cy="349.10" r="1.9" fill="#7a12d8"/>
<circle cx="466.20" cy="350.30" r="1.9" fill="#7a12d8"/>
<circle cx="484.40" cy="348.80" r="1.9" fill="#7a12d8"/>
<circle cx="411.80" cy="340.50" r="1.9" fill="#7a12d8"/>
<path d="M339.60,315.00 L341.85,316.07 L344.10,317.14 L346.35,318.21 L348.60,319.28 L350.85,320.36 L353.10,321.43 L355.35,322.52 L357.60,323.60 L359.89,324.70 L362.18,325.80 L364.46,326.87 L366.75,327.89 L369.04,328.87 L371.32,329.77 L373.61,330.58 L375.90,331.30 L378.15,331.89 L380.40,332.39 L382.65,332.78 L384.90,333.09 L387.15,333.32 L389.40,333.47 L391.65,333.56 L393.90,333.60 L396.14,333.59 L398.38,333.58 L400.61,333.60 L402.85,333.68 L405.09,333.88 L407.32,334.22 L409.56,334.75 L411.80,335.50 L414.03,336.49 L416.25,337.69 L418.48,339.02 L420.70,340.42 L422.93,341.83 L425.15,343.19 L427.38,344.43 L429.60,345.50 L431.90,346.37 L434.20,347.00 L436.50,347.45 L438.80,347.74 L441.10,347.89 L443.40,347.95 L445.70,347.94 L448.00,347.90 L450.27,347.85 L452.55,347.79 L454.82,347.72 L457.10,347.63 L459.38,347.50 L461.65,347.35 L463.93,347.15 L466.20,346.90 L468.47,346.60 L470.75,346.23 L473.02,345.78 L475.30,345.24 L477.57,344.61 L479.85,343.86 L482.12,343.00 L484.40,342.00 L486.61,340.90 L488.82,339.67 L491.04,338.35 L493.25,336.94 L495.46,335.47 L497.68,333.94 L499.89,332.38 L502.10,330.80" stroke="#e4046e" stroke-width="0.9" fill="none" stroke-opacity="0.85"/>
<path d="M411.80,333.30V337.70M410.70,333.30h2.2M410.70,337.70h2.2M429.60,339.50V351.50M428.50,339.50h2.2M428.50,351.50h2.2M448.00,338.90V356.90M446.90,338.90h2.2M446.90,356.90h2.2M466.20,338.90V354.90M465.10,338.90h2.2M465.10,354.90h2.2M484.40,335.00V349.00M483.30,335.00h2.2M483.30,349.00h2.2M502.10,324.80V336.80M501.00,324.80h2.2M501.00,336.80h2.2M411.80,326.10V330.50M410.70,326.10h2.2M410.70,330.50h2.2" stroke="#e4046e" stroke-width="0.8" fill="none" stroke-opacity="0.72"/>
<circle cx="339.60" cy="315.00" r="1.9" fill="#e4046e"/>
<circle cx="357.60" cy="323.60" r="1.9" fill="#e4046e"/>
<circle cx="375.90" cy="331.30" r="1.9" fill="#e4046e"/>
<circle cx="393.90" cy="333.60" r="1.9" fill="#e4046e"/>
<circle cx="411.80" cy="335.50" r="1.9" fill="#e4046e"/>
<circle cx="429.60" cy="345.50" r="1.9" fill="#e4046e"/>
<circle cx="448.00" cy="347.90" r="1.9" fill="#e4046e"/>
<circle cx="466.20" cy="346.90" r="1.9" fill="#e4046e"/>
<circle cx="484.40" cy="342.00" r="1.9" fill="#e4046e"/>
<circle cx="502.10" cy="330.80" r="1.9" fill="#e4046e"/>
<circle cx="411.80" cy="328.30" r="1.9" fill="#e4046e"/>
<path d="M339.60,320.90 L341.85,321.79 L344.10,322.69 L346.35,323.59 L348.60,324.51 L350.85,325.43 L353.10,326.37 L355.35,327.32 L357.60,328.30 L359.89,329.31 L362.18,330.34 L364.46,331.36 L366.75,332.37 L369.04,333.36 L371.32,334.30 L373.61,335.18 L375.90,336.00 L378.15,336.72 L380.40,337.34 L382.65,337.82 L384.90,338.14 L387.15,338.27 L389.40,338.17 L391.65,337.82 L393.90,337.20 L396.14,336.30 L398.38,335.20 L400.61,334.02 L402.85,332.88 L405.09,331.87 L407.32,331.11 L409.56,330.72 L411.80,330.80 L414.03,331.42 L416.25,332.50 L418.48,333.93 L420.70,335.58 L422.93,337.34 L425.15,339.09 L427.38,340.72 L429.60,342.10 L431.90,343.18 L434.20,343.92 L436.50,344.38 L438.80,344.62 L441.10,344.69 L443.40,344.64 L445.70,344.53 L448.00,344.40 L450.27,344.31 L452.55,344.25 L454.82,344.21 L457.10,344.18 L459.38,344.16 L461.65,344.13 L463.93,344.08 L466.20,344.00 L468.47,343.89 L470.75,343.74 L473.02,343.54 L475.30,343.30 L477.57,343.00 L479.85,342.66 L482.12,342.26 L484.40,341.80 L486.61,341.29 L488.82,340.69 L491.04,339.99 L493.25,339.15 L495.46,338.14 L497.68,336.95 L499.89,335.55 L502.10,333.90 L504.35,331.96 L506.60,329.79 L508.85,327.40 L511.10,324.85 L513.35,322.16 L515.60,319.36 L517.85,316.50 L520.10,313.60" stroke="#08f008" stroke-width="0.9" fill="none" stroke-opacity="0.85"/>
<path d="M411.80,328.60V333.00M410.70,328.60h2.2M410.70,333.00h2.2M429.60,338.10V346.10M428.50,338.10h2.2M428.50,346.10h2.2M448.00,340.40V348.40M446.90,340.40h2.2M446.90,348.40h2.2M466.20,339.00V349.00M465.10,339.00h2.2M465.10,349.00h2.2M484.40,336.80V346.80M483.30,336.80h2.2M483.30,346.80h2.2M502.10,328.90V338.90M501.00,328.90h2.2M501.00,338.90h2.2M520.10,308.60V318.60M519.00,308.60h2.2M519.00,318.60h2.2M411.80,320.80V325.20M410.70,320.80h2.2M410.70,325.20h2.2" stroke="#08f008" stroke-width="0.8" fill="none" stroke-opacity="0.72"/>
<circle cx="339.60" cy="320.90" r="1.9" fill="#08f008"/>
<circle cx="357.60" cy="328.30" r="1.9" fill="#08f008"/>
<circle cx="375.90" cy="336.00" r="1.9" fill="#08f008"/>
<circle cx="393.90" cy="337.20" r="1.9" fill="#08f008"/>
<circle cx="411.80" cy="330.80" r="1.9" fill="#08f008"/>
<circle cx="429.60" cy="342.10" r="1.9" fill="#08f008"/>
<circle cx="448.00" cy="344.40" r="1.9" fill="#08f008"/>
<circle cx="466.20" cy="344.00" r="1.9" fill="#08f008"/>
<circle cx="484.40" cy="341.80" r="1.9" fill="#08f008"/>
<circle cx="502.10" cy="333.90" r="1.9" fill="#08f008"/>
<circle cx="520.10" cy="313.60" r="1.9" fill="#08f008"/>
<circle cx="411.80" cy="323.00" r="1.9" fill="#08f008"/>
<path d="M339.60,319.30 L341.85,319.96 L344.10,320.61 L346.35,321.26 L348.60,321.89 L350.85,322.51 L353.10,323.10 L355.35,323.66 L357.60,324.20 L359.89,324.71 L362.18,325.18 L364.46,325.63 L366.75,326.05 L369.04,326.44 L371.32,326.81 L373.61,327.16 L375.90,327.50 L378.15,327.81 L380.40,328.08 L382.65,328.26 L384.90,328.31 L387.15,328.21 L389.40,327.92 L391.65,327.39 L393.90,326.60 L396.14,325.53 L398.38,324.26 L400.61,322.87 L402.85,321.47 L405.09,320.15 L407.32,319.00 L409.56,318.12 L411.80,317.60 L414.03,317.51 L416.25,317.80 L418.48,318.41 L420.70,319.26 L422.93,320.28 L425.15,321.41 L427.38,322.57 L429.60,323.70 L431.90,324.77 L434.20,325.72 L436.50,326.54 L438.80,327.23 L441.10,327.78 L443.40,328.18 L445.70,328.42 L448.00,328.50 L450.27,328.41 L452.55,328.14 L454.82,327.71 L457.10,327.11 L459.38,326.34 L461.65,325.40 L463.93,324.28 L466.20,323.00 L468.47,321.55 L470.75,319.94 L473.02,318.19 L475.30,316.32 L477.57,314.34 L479.85,312.27 L482.12,310.12 L484.40,307.90 L486.61,305.70 L488.82,303.46 L491.04,301.18 L493.25,298.88 L495.46,296.55 L497.68,294.21 L499.89,291.86 L502.10,289.50" stroke="#08b2f6" stroke-width="0.9" fill="none" stroke-opacity="0.85"/>
<path d="M411.80,315.40V319.80M410.70,315.40h2.2M410.70,319.80h2.2M429.60,321.50V325.90M428.50,321.50h2.2M428.50,325.90h2.2M448.00,326.30V330.70M446.90,326.30h2.2M446.90,330.70h2.2M466.20,320.80V325.20M465.10,320.80h2.2M465.10,325.20h2.2M484.40,304.70V311.10M483.30,304.70h2.2M483.30,311.10h2.2M502.10,280.50V298.50M501.00,280.50h2.2M501.00,298.50h2.2" stroke="#08b2f6" stroke-width="0.8" fill="none" stroke-opacity="0.72"/>
<circle cx="339.60" cy="319.30" r="1.9" fill="#08b2f6"/>
<circle cx="357.60" cy="324.20" r="1.9" fill="#08b2f6"/>
<circle cx="375.90" cy="327.50" r="1.9" fill="#08b2f6"/>
<circle cx="393.90" cy="326.60" r="1.9" fill="#08b2f6"/>
<circle cx="411.80" cy="317.60" r="1.9" fill="#08b2f6"/>
<circle cx="429.60" cy="323.70" r="1.9" fill="#08b2f6"/>
<circle cx="448.00" cy="328.50" r="1.9" fill="#08b2f6"/>
<circle cx="466.20" cy="323.00" r="1.9" fill="#08b2f6"/>
<circle cx="484.40" cy="307.90" r="1.9" fill="#08b2f6"/>
<circle cx="502.10" cy="289.50" r="1.9" fill="#08b2f6"/>
<path d="M339.60,318.50 L341.85,319.08 L344.10,319.66 L346.35,320.25 L348.60,320.85 L350.85,321.46 L353.10,322.09 L355.35,322.73 L357.60,323.40 L359.89,324.10 L362.18,324.80 L364.46,325.50 L366.75,326.18 L369.04,326.81 L371.32,327.38 L373.61,327.89 L375.90,328.30 L378.15,328.60 L380.40,328.79 L382.65,328.84 L384.90,328.75 L387.15,328.49 L389.40,328.06 L391.65,327.43 L393.90,326.60 L396.14,325.57 L398.38,324.37 L400.61,323.06 L402.85,321.70 L405.09,320.34 L407.32,319.03 L409.56,317.83 L411.80,316.80 L414.03,315.98 L416.25,315.34 L418.48,314.85 L420.70,314.48 L422.93,314.21 L425.15,313.99 L427.38,313.80 L429.60,313.60 L431.90,313.36 L434.20,313.10 L436.50,312.81 L438.80,312.51 L441.10,312.21 L443.40,311.92 L445.70,311.65 L448.00,311.40 L450.27,311.19 L452.55,311.01 L454.82,310.85 L457.10,310.69 L459.38,310.54 L461.65,310.38 L463.93,310.20 L466.20,310.00 L468.47,309.77 L470.75,309.51 L473.02,309.23 L475.30,308.95 L477.57,308.66 L479.85,308.39 L482.12,308.13 L484.40,307.90 L486.61,307.71 L488.82,307.54 L491.04,307.38 L493.25,307.23 L495.46,307.08 L497.68,306.91 L499.89,306.72 L502.10,306.50 L504.35,306.23 L506.60,305.93 L508.85,305.59 L511.10,305.22 L513.35,304.84 L515.60,304.43 L517.85,304.02 L520.10,303.60" stroke="#0808cc" stroke-width="0.9" fill="none" stroke-opacity="0.85"/>
<path d="M411.80,314.60V319.00M410.70,314.60h2.2M410.70,319.00h2.2M429.60,311.40V315.80M428.50,311.40h2.2M428.50,315.80h2.2M448.00,309.20V313.60M446.90,309.20h2.2M446.90,313.60h2.2M466.20,307.80V312.20M465.10,307.80h2.2M465.10,312.20h2.2M484.40,304.70V311.10M483.30,304.70h2.2M483.30,311.10h2.2M502.10,303.30V309.70M501.00,303.30h2.2M501.00,309.70h2.2M520.10,300.40V306.80M519.00,300.40h2.2M519.00,306.80h2.2" stroke="#0808cc" stroke-width="0.8" fill="none" stroke-opacity="0.72"/>
<circle cx="339.60" cy="318.50" r="1.9" fill="#0808cc"/>
<circle cx="357.60" cy="323.40" r="1.9" fill="#0808cc"/>
<circle cx="375.90" cy="328.30" r="1.9" fill="#0808cc"/>
<circle cx="393.90" cy="326.60" r="1.9" fill="#0808cc"/>
<circle cx="411.80" cy="316.80" r="1.9" fill="#0808cc"/>
<circle cx="429.60" cy="313.60" r="1.9" fill="#0808cc"/>
<circle cx="448.00" cy="311.40" r="1.9" fill="#0808cc"/>
<circle cx="466.20" cy="310.00" r="1.9" fill="#0808cc"/>
<circle cx="484.40" cy="307.90" r="1.9" fill="#0808cc"/>
<circle cx="502.10" cy="306.50" r="1.9" fill="#0808cc"/>
<circle cx="520.10" cy="303.60" r="1.9" fill="#0808cc"/>
<path d="M339.60,310.80 L341.85,312.13 L344.10,313.46 L346.35,314.76 L348.60,316.03 L350.85,317.26 L353.10,318.44 L355.35,319.56 L357.60,320.60 L359.89,321.58 L362.18,322.47 L364.46,323.28 L366.75,324.01 L369.04,324.67 L371.32,325.25 L373.61,325.76 L375.90,326.20 L378.15,326.56 L380.40,326.84 L382.65,327.02 L384.90,327.08 L387.15,327.01 L389.40,326.78 L391.65,326.39 L393.90,325.80 L396.14,325.02 L398.38,324.06 L400.61,322.95 L402.85,321.71 L405.09,320.37 L407.32,318.96 L409.56,317.49 L411.80,316.00" stroke="#a87e08" stroke-width="0.9" fill="none" stroke-opacity="0.85"/>
<path d="M411.80,313.80V318.20M410.70,313.80h2.2M410.70,318.20h2.2" stroke="#a87e08" stroke-width="0.8" fill="none" stroke-opacity="0.72"/>
<circle cx="339.60" cy="310.80" r="1.9" fill="#a87e08"/>
<circle cx="357.60" cy="320.60" r="1.9" fill="#a87e08"/>
<circle cx="375.90" cy="326.20" r="1.9" fill="#a87e08"/>
<circle cx="393.90" cy="325.80" r="1.9" fill="#a87e08"/>
<circle cx="411.80" cy="316.00" r="1.9" fill="#a87e08"/>
<path d="M339.60,301.00 L341.85,302.81 L344.10,304.61 L346.35,306.38 L348.60,308.12 L350.85,309.80 L353.10,311.41 L355.35,312.95 L357.60,314.40 L359.89,315.77 L362.18,317.03 L364.46,318.20 L366.75,319.26 L369.04,320.23 L371.32,321.11 L373.61,321.90 L375.90,322.60 L378.15,323.21 L380.40,323.72 L382.65,324.12 L384.90,324.39 L387.15,324.52 L389.40,324.50 L391.65,324.29 L393.90,323.90 L396.14,323.32 L398.38,322.62 L400.61,321.87 L402.85,321.15 L405.09,320.55 L407.32,320.14 L409.56,319.99 L411.80,320.20 L414.03,320.80 L416.25,321.74 L418.48,322.93 L420.70,324.28 L422.93,325.71 L425.15,327.13 L427.38,328.45 L429.60,329.60 L431.90,330.52 L434.20,331.19 L436.50,331.63 L438.80,331.88 L441.10,331.96 L443.40,331.90 L445.70,331.74 L448.00,331.50 L450.27,331.21 L452.55,330.89 L454.82,330.53 L457.10,330.15 L459.38,329.75 L461.65,329.33 L463.93,328.92 L466.20,328.50 L468.47,328.09 L470.75,327.67 L473.02,327.21 L475.30,326.70 L477.57,326.12 L479.85,325.44 L482.12,324.64 L484.40,323.70 L486.61,322.64 L488.82,321.45 L491.04,320.15 L493.25,318.75 L495.46,317.28 L497.68,315.75 L499.89,314.19 L502.10,312.60" stroke="#cc0012" stroke-width="0.9" fill="none" stroke-opacity="0.85"/>
<path d="M411.80,318.00V322.40M410.70,318.00h2.2M410.70,322.40h2.2M429.60,327.40V331.80M428.50,327.40h2.2M428.50,331.80h2.2M448.00,329.30V333.70M446.90,329.30h2.2M446.90,333.70h2.2M466.20,326.30V330.70M465.10,326.30h2.2M465.10,330.70h2.2M484.40,318.70V328.70M483.30,318.70h2.2M483.30,328.70h2.2M502.10,307.60V317.60M501.00,307.60h2.2M501.00,317.60h2.2" stroke="#cc0012" stroke-width="0.8" fill="none" stroke-opacity="0.72"/>
<circle cx="339.60" cy="301.00" r="1.9" fill="#cc0012"/>
<circle cx="357.60" cy="314.40" r="1.9" fill="#cc0012"/>
<circle cx="375.90" cy="322.60" r="1.9" fill="#cc0012"/>
<circle cx="393.90" cy="323.90" r="1.9" fill="#cc0012"/>
<circle cx="411.80" cy="320.20" r="1.9" fill="#cc0012"/>
<circle cx="429.60" cy="329.60" r="1.9" fill="#cc0012"/>
<circle cx="448.00" cy="331.50" r="1.9" fill="#cc0012"/>
<circle cx="466.20" cy="328.50" r="1.9" fill="#cc0012"/>
<circle cx="484.40" cy="323.70" r="1.9" fill="#cc0012"/>
<circle cx="502.10" cy="312.60" r="1.9" fill="#cc0012"/>
<path d="M339.60,308.80 L341.85,309.74 L344.10,310.68 L346.35,311.61 L348.60,312.55 L350.85,313.47 L353.10,314.39 L355.35,315.30 L357.60,316.20 L359.89,317.10 L362.18,317.98 L364.46,318.84 L366.75,319.66 L369.04,320.43 L371.32,321.15 L373.61,321.81 L375.90,322.40 L378.15,322.90 L380.40,323.30 L382.65,323.57 L384.90,323.68 L387.15,323.61 L389.40,323.32 L391.65,322.79 L393.90,322.00 L396.14,320.94 L398.38,319.67 L400.61,318.30 L402.85,316.91 L405.09,315.60 L407.32,314.44 L409.56,313.55 L411.80,313.00 L414.03,312.86 L416.25,313.07 L418.48,313.55 L420.70,314.21 L422.93,314.97 L425.15,315.74 L427.38,316.45 L429.60,317.00 L431.90,317.34 L434.20,317.47 L436.50,317.42 L438.80,317.24 L441.10,316.96 L443.40,316.61 L445.70,316.25 L448.00,315.90 L450.27,315.60 L452.55,315.36 L454.82,315.17 L457.10,315.03 L459.38,314.95 L461.65,314.91 L463.93,314.93 L466.20,315.00 L468.47,315.12 L470.75,315.28 L473.02,315.47 L475.30,315.69 L477.57,315.92 L479.85,316.15 L482.12,316.38 L484.40,316.60 L486.61,316.79 L488.82,316.96 L491.04,317.12 L493.25,317.27 L495.46,317.40 L497.68,317.54 L499.89,317.67 L502.10,317.80 L504.35,317.94 L506.60,318.08 L508.85,318.23 L511.10,318.38 L513.35,318.53 L515.60,318.69 L517.85,318.84 L520.10,319.00" stroke="#000000" stroke-width="0.9" fill="none" stroke-opacity="0.85"/>
<path d="M411.80,310.80V315.20M410.70,310.80h2.2M410.70,315.20h2.2M429.60,314.80V319.20M428.50,314.80h2.2M428.50,319.20h2.2M448.00,313.70V318.10M446.90,313.70h2.2M446.90,318.10h2.2M466.20,312.80V317.20M465.10,312.80h2.2M465.10,317.20h2.2M484.40,313.40V319.80M483.30,313.40h2.2M483.30,319.80h2.2M502.10,314.60V321.00M501.00,314.60h2.2M501.00,321.00h2.2M520.10,315.80V322.20M519.00,315.80h2.2M519.00,322.20h2.2M411.80,317.50V321.90M410.70,317.50h2.2M410.70,321.90h2.2" stroke="#000000" stroke-width="0.8" fill="none" stroke-opacity="0.72"/>
<circle cx="339.60" cy="308.80" r="1.9" fill="#000000"/>
<circle cx="357.60" cy="316.20" r="1.9" fill="#000000"/>
<circle cx="375.90" cy="322.40" r="1.9" fill="#000000"/>
<circle cx="393.90" cy="322.00" r="1.9" fill="#000000"/>
<circle cx="411.80" cy="313.00" r="1.9" fill="#000000"/>
<circle cx="429.60" cy="317.00" r="1.9" fill="#000000"/>
<circle cx="448.00" cy="315.90" r="1.9" fill="#000000"/>
<circle cx="466.20" cy="315.00" r="1.9" fill="#000000"/>
<circle cx="484.40" cy="316.60" r="1.9" fill="#000000"/>
<circle cx="502.10" cy="317.80" r="1.9" fill="#000000"/>
<circle cx="520.10" cy="319.00" r="1.9" fill="#000000"/>
<circle cx="411.80" cy="319.70" r="1.9" fill="#000000"/>
<path d="M339.60,289.00 L341.85,290.20 L344.10,291.40 L346.35,292.60 L348.60,293.78 L350.85,294.94 L353.10,296.08 L355.35,297.21 L357.60,298.30 L359.89,299.38 L362.18,300.43 L364.46,301.45 L366.75,302.45 L369.04,303.42 L371.32,304.37 L373.61,305.29 L375.90,306.20 L378.15,307.07 L380.40,307.88 L382.65,308.61 L384.90,309.20 L387.15,309.62 L389.40,309.84 L391.65,309.81 L393.90,309.50 L396.14,308.90 L398.38,308.11 L400.61,307.24 L402.85,306.43 L405.09,305.80 L407.32,305.47 L409.56,305.56 L411.80,306.20 L414.03,307.46 L416.25,309.27 L418.48,311.51 L420.70,314.05 L422.93,316.78 L425.15,319.57 L427.38,322.32 L429.60,324.90 L431.90,327.28 L434.20,329.36 L436.50,331.14 L438.80,332.61 L441.10,333.80 L443.40,334.69 L445.70,335.29 L448.00,335.60 L450.27,335.64 L452.55,335.42 L454.82,334.97 L457.10,334.32 L459.38,333.48 L461.65,332.48 L463.93,331.35 L466.20,330.10 L468.47,328.76 L470.75,327.34 L473.02,325.85 L475.30,324.31 L477.57,322.72 L479.85,321.10 L482.12,319.46 L484.40,317.80" stroke="#5e4a12" stroke-width="0.9" fill="none" stroke-opacity="0.85"/>
<path d="M339.60,286.00V292.00M338.50,286.00h2.2M338.50,292.00h2.2M357.60,295.30V301.30M356.50,295.30h2.2M356.50,301.30h2.2M375.90,303.20V309.20M374.80,303.20h2.2M374.80,309.20h2.2M393.90,306.50V312.50M392.80,306.50h2.2M392.80,312.50h2.2M411.80,302.20V310.20M410.70,302.20h2.2M410.70,310.20h2.2M429.60,322.70V327.10M428.50,322.70h2.2M428.50,327.10h2.2M448.00,333.40V337.80M446.90,333.40h2.2M446.90,337.80h2.2M466.20,327.90V332.30M465.10,327.90h2.2M465.10,332.30h2.2M484.40,314.60V321.00M483.30,314.60h2.2M483.30,321.00h2.2" stroke="#5e4a12" stroke-width="0.8" fill="none" stroke-opacity="0.72"/>
<circle cx="339.60" cy="289.00" r="1.9" fill="#5e4a12"/>
<circle cx="357.60" cy="298.30" r="1.9" fill="#5e4a12"/>
<circle cx="375.90" cy="306.20" r="1.9" fill="#5e4a12"/>
<circle cx="393.90" cy="309.50" r="1.9" fill="#5e4a12"/>
<circle cx="411.80" cy="306.20" r="1.9" fill="#5e4a12"/>
<circle cx="429.60" cy="324.90" r="1.9" fill="#5e4a12"/>
<circle cx="448.00" cy="335.60" r="1.9" fill="#5e4a12"/>
<circle cx="466.20" cy="330.10" r="1.9" fill="#5e4a12"/>
<circle cx="484.40" cy="317.80" r="1.9" fill="#5e4a12"/>
<path d="M322.32,399.70v-2.0M322.32,211.50v2.0M344.82,399.70v-2.0M344.82,211.50v2.0M362.28,399.70v-2.0M362.28,211.50v2.0M376.54,399.70v-2.0M376.54,211.50v2.0M388.60,399.70v-2.0M388.60,211.50v2.0M399.04,399.70v-2.0M399.04,211.50v2.0M408.26,399.70v-2.0M408.26,211.50v2.0M416.50,399.70v-3.0M416.50,211.50v3.0M470.72,399.70v-2.0M470.72,211.50v2.0M502.44,399.70v-2.0M502.44,211.50v2.0M524.94,399.70v-2.0M524.94,211.50v2.0M290.60,381.46h2.0M542.40,381.46h-2.0M290.60,366.56h2.0M542.40,366.56h-2.0M290.60,353.96h2.0M542.40,353.96h-2.0M290.60,343.05h2.0M542.40,343.05h-2.0M290.60,333.42h2.0M542.40,333.42h-2.0M290.60,324.81h2.0M542.40,324.81h-2.0M290.60,268.15h2.0M542.40,268.15h-2.0M290.60,235.01h2.0M542.40,235.01h-2.0" stroke="#9696ec" stroke-width="1" fill="none"/>
<rect x="290.60" y="211.50" width="251.80" height="188.20" fill="none" stroke="#9696ec" stroke-width="1.3"/>
<text x="302.60" y="226.40" font-size="12.35" fill="#111" stroke="#111" stroke-width="0.22" text-anchor="start" >0.85&lt;Ne/O/0.157&lt;1.15</text>
<path d="M388.20,238.60H402.90" stroke="#cc0012" stroke-width="1.3" stroke-opacity="0.45"/>
<circle cx="395.50" cy="238.60" r="1.75" fill="#cc0012"/>
<text x="404.90" y="242.30" font-size="10.4" fill="#cc0012" stroke="#cc0012" stroke-width="0.1" text-anchor="start" >8/4/2011</text>
<path d="M388.20,248.58H402.90" stroke="#ff6e0a" stroke-width="1.3" stroke-opacity="0.45"/>
<circle cx="395.50" cy="248.58" r="1.75" fill="#ff6e0a"/>
<text x="404.90" y="252.28" font-size="10.4" fill="#ff6e0a" stroke="#ff6e0a" stroke-width="0.1" text-anchor="start" >1/23/2012</text>
<path d="M388.20,258.56H402.90" stroke="#046c0c" stroke-width="1.3" stroke-opacity="0.45"/>
<circle cx="395.50" cy="258.56" r="1.75" fill="#046c0c"/>
<text x="404.90" y="262.26" font-size="10.4" fill="#046c0c" stroke="#046c0c" stroke-width="0.1" text-anchor="start" >1/27/2012</text>
<path d="M388.20,268.54H402.90" stroke="#0808cc" stroke-width="1.3" stroke-opacity="0.45"/>
<circle cx="395.50" cy="268.54" r="1.75" fill="#0808cc"/>
<text x="404.90" y="272.24" font-size="10.4" fill="#0808cc" stroke="#0808cc" stroke-width="0.1" text-anchor="start" >3/7/2012</text>
<path d="M388.20,278.52H402.90" stroke="#7a12d8" stroke-width="1.3" stroke-opacity="0.45"/>
<circle cx="395.50" cy="278.52" r="1.75" fill="#7a12d8"/>
<text x="404.90" y="282.22" font-size="10.4" fill="#7a12d8" stroke="#7a12d8" stroke-width="0.1" text-anchor="start" >3/13/2012</text>
<path d="M388.20,288.50H402.90" stroke="#e4046e" stroke-width="1.3" stroke-opacity="0.45"/>
<circle cx="395.50" cy="288.50" r="1.75" fill="#e4046e"/>
<text x="404.90" y="292.20" font-size="10.4" fill="#e4046e" stroke="#e4046e" stroke-width="0.1" text-anchor="start" >5/17/2012</text>
<path d="M465.90,238.90H480.10" stroke="#08b2f6" stroke-width="1.3" stroke-opacity="0.45"/>
<circle cx="473.60" cy="238.90" r="1.75" fill="#08b2f6"/>
<text x="482.40" y="242.60" font-size="10.4" fill="#08b2f6" stroke="#08b2f6" stroke-width="0.1" text-anchor="start" >7/19/2012</text>
<path d="M465.90,248.88H480.10" stroke="#08f008" stroke-width="1.3" stroke-opacity="0.45"/>
<circle cx="473.60" cy="248.88" r="1.75" fill="#08f008"/>
<text x="482.40" y="252.58" font-size="10.4" fill="#08f008" stroke="#08f008" stroke-width="0.1" text-anchor="start" >5/22/2013</text>
<path d="M465.90,258.86H480.10" stroke="#a87e08" stroke-width="1.3" stroke-opacity="0.45"/>
<circle cx="473.60" cy="258.86" r="1.75" fill="#a87e08"/>
<text x="482.40" y="262.56" font-size="10.4" fill="#a87e08" stroke="#a87e08" stroke-width="0.1" text-anchor="start" >1/6/2014</text>
<path d="M465.90,268.84H480.10" stroke="#5e4a12" stroke-width="1.3" stroke-opacity="0.45"/>
<circle cx="473.60" cy="268.84" r="1.75" fill="#5e4a12"/>
<text x="482.40" y="272.54" font-size="10.4" fill="#5e4a12" stroke="#5e4a12" stroke-width="0.1" text-anchor="start" >4/18/2014</text>
<path d="M465.90,278.82H480.10" stroke="#000000" stroke-width="1.3" stroke-opacity="0.45"/>
<circle cx="473.60" cy="278.82" r="1.75" fill="#000000"/>
<text x="482.40" y="282.52" font-size="10.4" fill="#000000" stroke="#000000" stroke-width="0.1" text-anchor="start" >9/10/2017</text>
<rect x="115.40" y="510.90" width="53.70" height="24.30" fill="#f3d0e6" stroke="#e9bcd8" stroke-width="0.7"/>
<path d="M28.50,522.41H282.50" stroke="#767676" stroke-width="1.05"/>
<path d="M78.10,486.60 L80.38,490.93 L82.65,495.24 L84.92,499.51 L87.20,503.73 L89.47,507.88 L91.75,511.94 L94.02,515.88 L96.30,519.70 L98.59,523.39 L100.88,526.92 L103.16,530.28 L105.45,533.44 L107.74,536.40 L110.02,539.14 L112.31,541.64 L114.60,543.90 L116.88,545.89 L119.15,547.64 L121.42,549.18 L123.70,550.52 L125.98,551.68 L128.25,552.68 L130.53,553.55 L132.80,554.30 L135.08,554.95 L137.35,555.50 L139.62,555.94 L141.90,556.26 L144.18,556.46 L146.45,556.52 L148.72,556.43 L151.00,556.20 L153.26,555.81 L155.53,555.28 L157.79,554.63 L160.05,553.87 L162.31,553.02 L164.57,552.10 L166.84,551.12 L169.10,550.10 L171.38,549.05 L173.65,548.00 L175.93,546.98 L178.20,546.02 L180.47,545.13 L182.75,544.35 L185.03,543.70 L187.30,543.20 L189.60,542.88 L191.90,542.72 L194.20,542.72 L196.50,542.85 L198.80,543.10 L201.10,543.46 L203.40,543.89 L205.70,544.40 L207.97,544.95 L210.25,545.55 L212.53,546.18 L214.80,546.83 L217.07,547.51 L219.35,548.21 L221.62,548.90 L223.90,549.60 L226.18,550.29 L228.45,550.97 L230.72,551.65 L233.00,552.32 L235.28,552.99 L237.55,553.66 L239.82,554.33 L242.10,555.00 L244.35,555.67 L246.60,556.34 L248.85,557.01 L251.10,557.69 L253.35,558.36 L255.60,559.04 L257.85,559.72 L260.10,560.40" stroke="#046c0c" stroke-width="0.9" fill="none" stroke-opacity="0.85"/>
<path d="M151.00,554.00V558.40M149.90,554.00h2.2M149.90,558.40h2.2M169.10,547.90V552.30M168.00,547.90h2.2M168.00,552.30h2.2M187.30,541.00V545.40M186.20,541.00h2.2M186.20,545.40h2.2M205.70,542.20V546.60M204.60,542.20h2.2M204.60,546.60h2.2M223.90,546.40V552.80M222.80,546.40h2.2M222.80,552.80h2.2M242.10,551.80V558.20M241.00,551.80h2.2M241.00,558.20h2.2M260.10,557.20V563.60M259.00,557.20h2.2M259.00,563.60h2.2M151.00,563.20V577.20M149.90,563.20h2.2M149.90,577.20h2.2" stroke="#046c0c" stroke-width="0.8" fill="none" stroke-opacity="0.72"/>
<circle cx="78.10" cy="486.60" r="1.9" fill="#046c0c"/>
<circle cx="96.30" cy="519.70" r="1.9" fill="#046c0c"/>
<circle cx="114.60" cy="543.90" r="1.9" fill="#046c0c"/>
<circle cx="132.80" cy="554.30" r="1.9" fill="#046c0c"/>
<circle cx="151.00" cy="556.20" r="1.9" fill="#046c0c"/>
<circle cx="169.10" cy="550.10" r="1.9" fill="#046c0c"/>
<circle cx="187.30" cy="543.20" r="1.9" fill="#046c0c"/>
<circle cx="205.70" cy="544.40" r="1.9" fill="#046c0c"/>
<circle cx="223.90" cy="549.60" r="1.9" fill="#046c0c"/>
<circle cx="242.10" cy="555.00" r="1.9" fill="#046c0c"/>
<circle cx="260.10" cy="560.40" r="1.9" fill="#046c0c"/>
<circle cx="151.00" cy="570.50" r="1.9" fill="#046c0c"/>
<path d="M78.10,538.70 L80.38,539.56 L82.65,540.43 L84.92,541.31 L87.20,542.19 L89.47,543.09 L91.75,544.01 L94.02,544.94 L96.30,545.90 L98.59,546.89 L100.88,547.90 L103.16,548.92 L105.45,549.95 L107.74,550.98 L110.02,552.00 L112.31,553.01 L114.60,554.00 L116.88,554.95 L119.15,555.85 L121.42,556.69 L123.70,557.43 L125.98,558.07 L128.25,558.57 L130.53,558.92 L132.80,559.10 L135.08,559.10 L137.35,558.95 L139.62,558.69 L141.90,558.38 L144.18,558.06 L146.45,557.78 L148.72,557.58 L151.00,557.50 L153.26,557.58 L155.53,557.80 L157.79,558.12 L160.05,558.51 L162.31,558.94 L164.57,559.37 L166.84,559.77 L169.10,560.10 L171.38,560.35 L173.65,560.50 L175.93,560.59 L178.20,560.62 L180.47,560.60 L182.75,560.55 L185.03,560.48 L187.30,560.40 L189.60,560.32 L191.90,560.24 L194.20,560.15 L196.50,560.02 L198.80,559.86 L201.10,559.64 L203.40,559.36 L205.70,559.00 L207.97,558.57 L210.25,558.07 L212.53,557.53 L214.80,556.97 L217.07,556.42 L219.35,555.89 L221.62,555.41 L223.90,555.00 L226.18,554.68 L228.45,554.42 L230.72,554.23 L233.00,554.07 L235.28,553.92 L237.55,553.78 L239.82,553.61 L242.10,553.40 L244.35,553.14 L246.60,552.83 L248.85,552.47 L251.10,552.08 L253.35,551.66 L255.60,551.22 L257.85,550.76 L260.10,550.30" stroke="#cc0012" stroke-width="0.9" fill="none" stroke-opacity="0.85"/>
<path d="M151.00,555.30V559.70M149.90,555.30h2.2M149.90,559.70h2.2M169.10,557.90V562.30M168.00,557.90h2.2M168.00,562.30h2.2M187.30,558.20V562.60M186.20,558.20h2.2M186.20,562.60h2.2M205.70,556.80V561.20M204.60,556.80h2.2M204.60,561.20h2.2M223.90,551.80V558.20M222.80,551.80h2.2M222.80,558.20h2.2M242.10,550.20V556.60M241.00,550.20h2.2M241.00,556.60h2.2M260.10,547.10V553.50M259.00,547.10h2.2M259.00,553.50h2.2M151.00,550.70V555.10M149.90,550.70h2.2M149.90,555.10h2.2" stroke="#cc0012" stroke-width="0.8" fill="none" stroke-opacity="0.72"/>
<circle cx="78.10" cy="538.70" r="1.9" fill="#cc0012"/>
<circle cx="96.30" cy="545.90" r="1.9" fill="#cc0012"/>
<circle cx="114.60" cy="554.00" r="1.9" fill="#cc0012"/>
<circle cx="132.80" cy="559.10" r="1.9" fill="#cc0012"/>
<circle cx="151.00" cy="557.50" r="1.9" fill="#cc0012"/>
<circle cx="169.10" cy="560.10" r="1.9" fill="#cc0012"/>
<circle cx="187.30" cy="560.40" r="1.9" fill="#cc0012"/>
<circle cx="205.70" cy="559.00" r="1.9" fill="#cc0012"/>
<circle cx="223.90" cy="555.00" r="1.9" fill="#cc0012"/>
<circle cx="242.10" cy="553.40" r="1.9" fill="#cc0012"/>
<circle cx="260.10" cy="550.30" r="1.9" fill="#cc0012"/>
<circle cx="151.00" cy="552.90" r="1.9" fill="#cc0012"/>
<path d="M78.10,511.50 L80.38,514.85 L82.65,518.19 L84.92,521.49 L87.20,524.75 L89.47,527.94 L91.75,531.06 L94.02,534.08 L96.30,537.00 L98.59,539.81 L100.88,542.49 L103.16,545.04 L105.45,547.46 L107.74,549.75 L110.02,551.90 L112.31,553.92 L114.60,555.80 L116.88,557.53 L119.15,559.09 L121.42,560.46 L123.70,561.61 L125.98,562.51 L128.25,563.15 L130.53,563.49 L132.80,563.50 L135.08,563.17 L137.35,562.54 L139.62,561.64 L141.90,560.53 L144.18,559.23 L146.45,557.80 L148.72,556.27 L151.00,554.70 L153.26,553.13 L155.53,551.60 L157.79,550.17 L160.05,548.87 L162.31,547.75 L164.57,546.87 L166.84,546.27 L169.10,546.00 L171.38,546.09 L173.65,546.50 L175.93,547.16 L178.20,548.03 L180.47,549.02 L182.75,550.09 L185.03,551.17 L187.30,552.20 L189.60,553.14 L191.90,553.97 L194.20,554.71 L196.50,555.37 L198.80,555.96 L201.10,556.49 L203.40,556.96 L205.70,557.40 L207.97,557.80 L210.25,558.18 L212.53,558.55 L214.80,558.89 L217.07,559.23 L219.35,559.55 L221.62,559.88 L223.90,560.20 L226.18,560.52 L228.45,560.82 L230.72,561.05 L233.00,561.20 L235.28,561.21 L237.55,561.08 L239.82,560.75 L242.10,560.20 L244.35,559.42 L246.60,558.42 L248.85,557.23 L251.10,555.89 L253.35,554.43 L255.60,552.87 L257.85,551.25 L260.10,549.60" stroke="#08f008" stroke-width="0.9" fill="none" stroke-opacity="0.85"/>
<path d="M151.00,552.50V556.90M149.90,552.50h2.2M149.90,556.90h2.2M169.10,543.80V548.20M168.00,543.80h2.2M168.00,548.20h2.2M187.30,550.00V554.40M186.20,550.00h2.2M186.20,554.40h2.2M205.70,555.20V559.60M204.60,555.20h2.2M204.60,559.60h2.2M223.90,557.00V563.40M222.80,557.00h2.2M222.80,563.40h2.2M242.10,557.00V563.40M241.00,557.00h2.2M241.00,563.40h2.2M260.10,546.40V552.80M259.00,546.40h2.2M259.00,552.80h2.2" stroke="#08f008" stroke-width="0.8" fill="none" stroke-opacity="0.72"/>
<circle cx="78.10" cy="511.50" r="1.9" fill="#08f008"/>
<circle cx="96.30" cy="537.00" r="1.9" fill="#08f008"/>
<circle cx="114.60" cy="555.80" r="1.9" fill="#08f008"/>
<circle cx="132.80" cy="563.50" r="1.9" fill="#08f008"/>
<circle cx="151.00" cy="554.70" r="1.9" fill="#08f008"/>
<circle cx="169.10" cy="546.00" r="1.9" fill="#08f008"/>
<circle cx="187.30" cy="552.20" r="1.9" fill="#08f008"/>
<circle cx="205.70" cy="557.40" r="1.9" fill="#08f008"/>
<circle cx="223.90" cy="560.20" r="1.9" fill="#08f008"/>
<circle cx="242.10" cy="560.20" r="1.9" fill="#08f008"/>
<circle cx="260.10" cy="549.60" r="1.9" fill="#08f008"/>
<path d="M78.10,523.00 L80.38,524.46 L82.65,525.93 L84.92,527.41 L87.20,528.93 L89.47,530.49 L91.75,532.10 L94.02,533.76 L96.30,535.50 L98.59,537.32 L100.88,539.19 L103.16,541.09 L105.45,542.99 L107.74,544.86 L110.02,546.67 L112.31,548.39 L114.60,550.00 L116.88,551.46 L119.15,552.77 L121.42,553.90 L123.70,554.84 L125.98,555.57 L128.25,556.07 L130.53,556.32 L132.80,556.30 L135.08,556.01 L137.35,555.47 L139.62,554.72 L141.90,553.81 L144.18,552.76 L146.45,551.62 L148.72,550.42 L151.00,549.20 L153.26,548.01 L155.53,546.87 L157.79,545.82 L160.05,544.88 L162.31,544.10 L164.57,543.50 L166.84,543.13 L169.10,543.00 L171.38,543.15 L173.65,543.53 L175.93,544.11 L178.20,544.83 L180.47,545.65 L182.75,546.52 L185.03,547.38 L187.30,548.20 L189.60,548.94 L191.90,549.59 L194.20,550.18 L196.50,550.71 L198.80,551.21 L201.10,551.68 L203.40,552.14 L205.70,552.60 L207.97,553.08 L210.25,553.56 L212.53,554.06 L214.80,554.55 L217.07,555.04 L219.35,555.52 L221.62,555.97 L223.90,556.40 L226.18,556.79 L228.45,557.14 L230.72,557.43 L233.00,557.65 L235.28,557.78 L237.55,557.80 L239.82,557.72 L242.10,557.50 L244.35,557.15 L246.60,556.68 L248.85,556.11 L251.10,555.45 L253.35,554.73 L255.60,553.95 L257.85,553.13 L260.10,552.30" stroke="#0808cc" stroke-width="0.9" fill="none" stroke-opacity="0.85"/>
<path d="M151.00,547.00V551.40M149.90,547.00h2.2M149.90,551.40h2.2M169.10,540.80V545.20M168.00,540.80h2.2M168.00,545.20h2.2M187.30,546.00V550.40M186.20,546.00h2.2M186.20,550.40h2.2M205.70,550.40V554.80M204.60,550.40h2.2M204.60,554.80h2.2M223.90,553.20V559.60M222.80,553.20h2.2M222.80,559.60h2.2M242.10,554.30V560.70M241.00,554.30h2.2M241.00,560.70h2.2M260.10,549.10V555.50M259.00,549.10h2.2M259.00,555.50h2.2" stroke="#0808cc" stroke-width="0.8" fill="none" stroke-opacity="0.72"/>
<circle cx="78.10" cy="523.00" r="1.9" fill="#0808cc"/>
<circle cx="96.30" cy="535.50" r="1.9" fill="#0808cc"/>
<circle cx="114.60" cy="550.00" r="1.9" fill="#0808cc"/>
<circle cx="132.80" cy="556.30" r="1.9" fill="#0808cc"/>
<circle cx="151.00" cy="549.20" r="1.9" fill="#0808cc"/>
<circle cx="169.10" cy="543.00" r="1.9" fill="#0808cc"/>
<circle cx="187.30" cy="548.20" r="1.9" fill="#0808cc"/>
<circle cx="205.70" cy="552.60" r="1.9" fill="#0808cc"/>
<circle cx="223.90" cy="556.40" r="1.9" fill="#0808cc"/>
<circle cx="242.10" cy="557.50" r="1.9" fill="#0808cc"/>
<circle cx="260.10" cy="552.30" r="1.9" fill="#0808cc"/>
<path d="M78.10,522.50 L80.38,524.06 L82.65,525.62 L84.92,527.17 L87.20,528.74 L89.47,530.30 L91.75,531.86 L94.02,533.43 L96.30,535.00 L98.59,536.58 L100.88,538.16 L103.16,539.74 L105.45,541.30 L107.74,542.84 L110.02,544.36 L112.31,545.85 L114.60,547.30 L116.88,548.70 L119.15,550.02 L121.42,551.23 L123.70,552.29 L125.98,553.15 L128.25,553.78 L130.53,554.14 L132.80,554.20 L135.08,553.93 L137.35,553.37 L139.62,552.58 L141.90,551.62 L144.18,550.55 L146.45,549.41 L148.72,548.28 L151.00,547.20 L153.26,546.23 L155.53,545.37 L157.79,544.60 L160.05,543.93 L162.31,543.34 L164.57,542.83 L166.84,542.38 L169.10,542.00 L171.38,541.67 L173.65,541.39 L175.93,541.16 L178.20,540.97 L180.47,540.81 L182.75,540.68 L185.03,540.58 L187.30,540.50 L189.60,540.43 L191.90,540.39 L194.20,540.37 L196.50,540.38 L198.80,540.42 L201.10,540.50 L203.40,540.63 L205.70,540.80 L207.97,541.02 L210.25,541.29 L212.53,541.61 L214.80,541.97 L217.07,542.38 L219.35,542.82 L221.62,543.29 L223.90,543.80 L226.18,544.34 L228.45,544.90 L230.72,545.49 L233.00,546.10 L235.28,546.73 L237.55,547.37 L239.82,548.03 L242.10,548.70 L244.35,549.37 L246.60,550.05 L248.85,550.73 L251.10,551.42 L253.35,552.11 L255.60,552.81 L257.85,553.50 L260.10,554.20" stroke="#7a12d8" stroke-width="0.9" fill="none" stroke-opacity="0.85"/>
<path d="M151.00,545.00V549.40M149.90,545.00h2.2M149.90,549.40h2.2M169.10,539.80V544.20M168.00,539.80h2.2M168.00,544.20h2.2M187.30,538.30V542.70M186.20,538.30h2.2M186.20,542.70h2.2M205.70,538.60V543.00M204.60,538.60h2.2M204.60,543.00h2.2M223.90,540.60V547.00M222.80,540.60h2.2M222.80,547.00h2.2M242.10,545.50V551.90M241.00,545.50h2.2M241.00,551.90h2.2M260.10,551.00V557.40M259.00,551.00h2.2M259.00,557.40h2.2" stroke="#7a12d8" stroke-width="0.8" fill="none" stroke-opacity="0.72"/>
<circle cx="78.10" cy="522.50" r="1.9" fill="#7a12d8"/>
<circle cx="96.30" cy="535.00" r="1.9" fill="#7a12d8"/>
<circle cx="114.60" cy="547.30" r="1.9" fill="#7a12d8"/>
<circle cx="132.80" cy="554.20" r="1.9" fill="#7a12d8"/>
<circle cx="151.00" cy="547.20" r="1.9" fill="#7a12d8"/>
<circle cx="169.10" cy="542.00" r="1.9" fill="#7a12d8"/>
<circle cx="187.30" cy="540.50" r="1.9" fill="#7a12d8"/>
<circle cx="205.70" cy="540.80" r="1.9" fill="#7a12d8"/>
<circle cx="223.90" cy="543.80" r="1.9" fill="#7a12d8"/>
<circle cx="242.10" cy="548.70" r="1.9" fill="#7a12d8"/>
<circle cx="260.10" cy="554.20" r="1.9" fill="#7a12d8"/>
<path d="M78.10,525.50 L80.38,527.08 L82.65,528.65 L84.92,530.24 L87.20,531.84 L89.47,533.45 L91.75,535.08 L94.02,536.73 L96.30,538.40 L98.59,540.11 L100.88,541.81 L103.16,543.49 L105.45,545.12 L107.74,546.66 L110.02,548.09 L112.31,549.38 L114.60,550.50 L116.88,551.42 L119.15,552.15 L121.42,552.66 L123.70,552.95 L125.98,553.02 L128.25,552.86 L130.53,552.45 L132.80,551.80 L135.08,550.90 L137.35,549.81 L139.62,548.60 L141.90,547.33 L144.18,546.06 L146.45,544.88 L148.72,543.83 L151.00,543.00 L153.26,542.43 L155.53,542.08 L157.79,541.91 L160.05,541.88 L162.31,541.94 L164.57,542.04 L166.84,542.15 L169.10,542.20 L171.38,542.17 L173.65,542.07 L175.93,541.90 L178.20,541.69 L180.47,541.46 L182.75,541.23 L185.03,541.00 L187.30,540.80 L189.60,540.64 L191.90,540.51 L194.20,540.40 L196.50,540.29 L198.80,540.17 L201.10,540.03 L203.40,539.84 L205.70,539.60 L207.97,539.30 L210.25,538.94 L212.53,538.53 L214.80,538.08 L217.07,537.60 L219.35,537.11 L221.62,536.60 L223.90,536.10 L226.18,535.61 L228.45,535.13 L230.72,534.66 L233.00,534.21 L235.28,533.78 L237.55,533.37 L239.82,532.97 L242.10,532.60 L244.35,532.25 L246.60,531.92 L248.85,531.61 L251.10,531.31 L253.35,531.02 L255.60,530.75 L257.85,530.47 L260.10,530.20" stroke="#08b2f6" stroke-width="0.9" fill="none" stroke-opacity="0.85"/>
<path d="M151.00,540.80V545.20M149.90,540.80h2.2M149.90,545.20h2.2M169.10,540.00V544.40M168.00,540.00h2.2M168.00,544.40h2.2M187.30,538.60V543.00M186.20,538.60h2.2M186.20,543.00h2.2M205.70,537.40V541.80M204.60,537.40h2.2M204.60,541.80h2.2M223.90,532.90V539.30M222.80,532.90h2.2M222.80,539.30h2.2M242.10,529.40V535.80M241.00,529.40h2.2M241.00,535.80h2.2M260.10,527.00V533.40M259.00,527.00h2.2M259.00,533.40h2.2" stroke="#08b2f6" stroke-width="0.8" fill="none" stroke-opacity="0.72"/>
<circle cx="78.10" cy="525.50" r="1.9" fill="#08b2f6"/>
<circle cx="96.30" cy="538.40" r="1.9" fill="#08b2f6"/>
<circle cx="114.60" cy="550.50" r="1.9" fill="#08b2f6"/>
<circle cx="132.80" cy="551.80" r="1.9" fill="#08b2f6"/>
<circle cx="151.00" cy="543.00" r="1.9" fill="#08b2f6"/>
<circle cx="169.10" cy="542.20" r="1.9" fill="#08b2f6"/>
<circle cx="187.30" cy="540.80" r="1.9" fill="#08b2f6"/>
<circle cx="205.70" cy="539.60" r="1.9" fill="#08b2f6"/>
<circle cx="223.90" cy="536.10" r="1.9" fill="#08b2f6"/>
<circle cx="242.10" cy="532.60" r="1.9" fill="#08b2f6"/>
<circle cx="260.10" cy="530.20" r="1.9" fill="#08b2f6"/>
<path d="M78.10,519.50 L80.38,520.48 L82.65,521.46 L84.92,522.45 L87.20,523.45 L89.47,524.46 L91.75,525.48 L94.02,526.53 L96.30,527.60 L98.59,528.70 L100.88,529.81 L103.16,530.91 L105.45,531.98 L107.74,533.02 L110.02,533.99 L112.31,534.89 L114.60,535.70 L116.88,536.40 L119.15,536.99 L121.42,537.47 L123.70,537.85 L125.98,538.12 L128.25,538.29 L130.53,538.35 L132.80,538.30 L135.08,538.16 L137.35,537.98 L139.62,537.84 L141.90,537.79 L144.18,537.92 L146.45,538.28 L148.72,538.95 L151.00,540.00 L153.26,541.45 L155.53,543.22 L157.79,545.21 L160.05,547.28 L162.31,549.33 L164.57,551.25 L166.84,552.91 L169.10,554.20 L171.38,555.04 L173.65,555.46 L175.93,555.51 L178.20,555.27 L180.47,554.79 L182.75,554.14 L185.03,553.39 L187.30,552.60 L189.60,551.81 L191.90,551.02 L194.20,550.22 L196.50,549.39 L198.80,548.51 L201.10,547.57 L203.40,546.53 L205.70,545.40 L207.97,544.16 L210.25,542.83 L212.53,541.42 L214.80,539.96 L217.07,538.47 L219.35,536.96 L221.62,535.46 L223.90,534.00 L226.18,532.58 L228.45,531.21 L230.72,529.88 L233.00,528.59 L235.28,527.32 L237.55,526.07 L239.82,524.83 L242.10,523.60" stroke="#ff6e0a" stroke-width="0.9" fill="none" stroke-opacity="0.85"/>
<path d="M151.00,537.80V542.20M149.90,537.80h2.2M149.90,542.20h2.2M169.10,552.00V556.40M168.00,552.00h2.2M168.00,556.40h2.2M187.30,550.40V554.80M186.20,550.40h2.2M186.20,554.80h2.2M205.70,543.20V547.60M204.60,543.20h2.2M204.60,547.60h2.2M223.90,524.00V544.00M222.80,524.00h2.2M222.80,544.00h2.2M242.10,506.00V540.00M241.00,506.00h2.2M241.00,540.00h2.2" stroke="#ff6e0a" stroke-width="0.8" fill="none" stroke-opacity="0.72"/>
<circle cx="78.10" cy="519.50" r="1.9" fill="#ff6e0a"/>
<circle cx="96.30" cy="527.60" r="1.9" fill="#ff6e0a"/>
<circle cx="114.60" cy="535.70" r="1.9" fill="#ff6e0a"/>
<circle cx="132.80" cy="538.30" r="1.9" fill="#ff6e0a"/>
<circle cx="151.00" cy="540.00" r="1.9" fill="#ff6e0a"/>
<circle cx="169.10" cy="554.20" r="1.9" fill="#ff6e0a"/>
<circle cx="187.30" cy="552.60" r="1.9" fill="#ff6e0a"/>
<circle cx="205.70" cy="545.40" r="1.9" fill="#ff6e0a"/>
<circle cx="223.90" cy="534.00" r="1.9" fill="#ff6e0a"/>
<circle cx="242.10" cy="523.60" r="1.9" fill="#ff6e0a"/>
<path d="M78.10,520.50 L80.38,521.71 L82.65,522.91 L84.92,524.11 L87.20,525.31 L89.47,526.50 L91.75,527.68 L94.02,528.85 L96.30,530.00 L98.59,531.14 L100.88,532.27 L103.16,533.36 L105.45,534.42 L107.74,535.45 L110.02,536.42 L112.31,537.34 L114.60,538.20 L116.88,538.99 L119.15,539.67 L121.42,540.23 L123.70,540.62 L125.98,540.82 L128.25,540.79 L130.53,540.49 L132.80,539.90 L135.08,539.00 L137.35,537.88 L139.62,536.63 L141.90,535.36 L144.18,534.17 L146.45,533.17 L148.72,532.44 L151.00,532.10 L153.26,532.21 L155.53,532.72 L157.79,533.52 L160.05,534.54 L162.31,535.68 L164.57,536.84 L166.84,537.95 L169.10,538.90 L171.38,539.64 L173.65,540.16 L175.93,540.51 L178.20,540.72 L180.47,540.82 L182.75,540.84 L185.03,540.82 L187.30,540.80 L189.60,540.80 L191.90,540.80 L194.20,540.81 L196.50,540.81 L198.80,540.78 L201.10,540.71 L203.40,540.59 L205.70,540.40 L207.97,540.14 L210.25,539.81 L212.53,539.44 L214.80,539.02 L217.07,538.59 L219.35,538.15 L221.62,537.71 L223.90,537.30 L226.18,536.92 L228.45,536.57 L230.72,536.25 L233.00,535.95 L235.28,535.67 L237.55,535.40 L239.82,535.15 L242.10,534.90 L244.35,534.66 L246.60,534.42 L248.85,534.18 L251.10,533.94 L253.35,533.70 L255.60,533.47 L257.85,533.23 L260.10,533.00" stroke="#e4046e" stroke-width="0.9" fill="none" stroke-opacity="0.85"/>
<path d="M151.00,528.10V536.10M149.90,528.10h2.2M149.90,536.10h2.2M169.10,536.70V541.10M168.00,536.70h2.2M168.00,541.10h2.2M187.30,538.60V543.00M186.20,538.60h2.2M186.20,543.00h2.2M205.70,538.20V542.60M204.60,538.20h2.2M204.60,542.60h2.2M223.90,534.10V540.50M222.80,534.10h2.2M222.80,540.50h2.2M242.10,531.70V538.10M241.00,531.70h2.2M241.00,538.10h2.2M260.10,529.80V536.20M259.00,529.80h2.2M259.00,536.20h2.2" stroke="#e4046e" stroke-width="0.8" fill="none" stroke-opacity="0.72"/>
<circle cx="78.10" cy="520.50" r="1.9" fill="#e4046e"/>
<circle cx="96.30" cy="530.00" r="1.9" fill="#e4046e"/>
<circle cx="114.60" cy="538.20" r="1.9" fill="#e4046e"/>
<circle cx="132.80" cy="539.90" r="1.9" fill="#e4046e"/>
<circle cx="151.00" cy="532.10" r="1.9" fill="#e4046e"/>
<circle cx="169.10" cy="538.90" r="1.9" fill="#e4046e"/>
<circle cx="187.30" cy="540.80" r="1.9" fill="#e4046e"/>
<circle cx="205.70" cy="540.40" r="1.9" fill="#e4046e"/>
<circle cx="223.90" cy="537.30" r="1.9" fill="#e4046e"/>
<circle cx="242.10" cy="534.90" r="1.9" fill="#e4046e"/>
<circle cx="260.10" cy="533.00" r="1.9" fill="#e4046e"/>
<path d="M78.10,519.90 L80.38,521.10 L82.65,522.31 L84.92,523.54 L87.20,524.77 L89.47,526.03 L91.75,527.32 L94.02,528.64 L96.30,530.00 L98.59,531.41 L100.88,532.84 L103.16,534.29 L105.45,535.73 L107.74,537.15 L110.02,538.53 L112.31,539.85 L114.60,541.10 L116.88,542.25 L119.15,543.29 L121.42,544.16 L123.70,544.86 L125.98,545.33 L128.25,545.55 L130.53,545.48 L132.80,545.10 L135.08,544.39 L137.35,543.43 L139.62,542.33 L141.90,541.18 L144.18,540.11 L146.45,539.20 L148.72,538.56 L151.00,538.30 L153.26,538.48 L155.53,539.04 L157.79,539.87 L160.05,540.88 L162.31,541.95 L164.57,543.00 L166.84,543.92 L169.10,544.60 L171.38,544.98 L173.65,545.06 L175.93,544.90 L178.20,544.54 L180.47,544.03 L182.75,543.40 L185.03,542.71 L187.30,542.00 L189.60,541.30 L191.90,540.63 L194.20,539.99 L196.50,539.38 L198.80,538.80 L201.10,538.26 L203.40,537.76 L205.70,537.30 L207.97,536.88 L210.25,536.48 L212.53,536.10 L214.80,535.70 L217.07,535.28 L219.35,534.82 L221.62,534.30 L223.90,533.70 L226.18,533.02 L228.45,532.27 L230.72,531.47 L233.00,530.64 L235.28,529.79 L237.55,528.96 L239.82,528.16 L242.10,527.40 L244.35,526.72 L246.60,526.09 L248.85,525.51 L251.10,524.98 L253.35,524.48 L255.60,524.01 L257.85,523.55 L260.10,523.10" stroke="#a87e08" stroke-width="0.9" fill="none" stroke-opacity="0.85"/>
<path d="M151.00,536.10V540.50M149.90,536.10h2.2M149.90,540.50h2.2M169.10,542.40V546.80M168.00,542.40h2.2M168.00,546.80h2.2M187.30,539.80V544.20M186.20,539.80h2.2M186.20,544.20h2.2M205.70,535.10V539.50M204.60,535.10h2.2M204.60,539.50h2.2M223.90,530.50V536.90M222.80,530.50h2.2M222.80,536.90h2.2M242.10,524.20V530.60M241.00,524.20h2.2M241.00,530.60h2.2M260.10,519.10V527.10M259.00,519.10h2.2M259.00,527.10h2.2" stroke="#a87e08" stroke-width="0.8" fill="none" stroke-opacity="0.72"/>
<circle cx="78.10" cy="519.90" r="1.9" fill="#a87e08"/>
<circle cx="96.30" cy="530.00" r="1.9" fill="#a87e08"/>
<circle cx="114.60" cy="541.10" r="1.9" fill="#a87e08"/>
<circle cx="132.80" cy="545.10" r="1.9" fill="#a87e08"/>
<circle cx="151.00" cy="538.30" r="1.9" fill="#a87e08"/>
<circle cx="169.10" cy="544.60" r="1.9" fill="#a87e08"/>
<circle cx="187.30" cy="542.00" r="1.9" fill="#a87e08"/>
<circle cx="205.70" cy="537.30" r="1.9" fill="#a87e08"/>
<circle cx="223.90" cy="533.70" r="1.9" fill="#a87e08"/>
<circle cx="242.10" cy="527.40" r="1.9" fill="#a87e08"/>
<circle cx="260.10" cy="523.10" r="1.9" fill="#a87e08"/>
<path d="M60.50,597.90v-2.0M60.50,408.20v2.0M83.20,597.90v-2.0M83.20,408.20v2.0M100.80,597.90v-2.0M100.80,408.20v2.0M115.19,597.90v-2.0M115.19,408.20v2.0M127.35,597.90v-2.0M127.35,408.20v2.0M137.89,597.90v-2.0M137.89,408.20v2.0M147.19,597.90v-2.0M147.19,408.20v2.0M155.50,597.90v-3.0M155.50,408.20v3.0M210.20,597.90v-2.0M210.20,408.20v2.0M242.19,597.90v-2.0M242.19,408.20v2.0M264.89,597.90v-2.0M264.89,408.20v2.0M28.50,579.52h2.0M282.50,579.52h-2.0M28.50,564.50h2.0M282.50,564.50h-2.0M28.50,551.80h2.0M282.50,551.80h-2.0M28.50,540.79h2.0M282.50,540.79h-2.0M28.50,531.09h2.0M282.50,531.09h-2.0M28.50,522.41h2.0M282.50,522.41h-2.0M28.50,465.31h2.0M282.50,465.31h-2.0M28.50,431.90h2.0M282.50,431.90h-2.0" stroke="#9696ec" stroke-width="1" fill="none"/>
<rect x="28.50" y="408.20" width="254.00" height="189.70" fill="none" stroke="#9696ec" stroke-width="1.3"/>
<text x="25.90" y="599.80" font-size="8" fill="#222" stroke="#222" stroke-width="0.1" text-anchor="end" >0.4</text>
<text x="25.90" y="581.42" font-size="8" fill="#222" stroke="#222" stroke-width="0.1" text-anchor="end" >0.5</text>
<text x="25.90" y="566.40" font-size="8" fill="#222" stroke="#222" stroke-width="0.1" text-anchor="end" >0.6</text>
<text x="25.90" y="553.70" font-size="8" fill="#222" stroke="#222" stroke-width="0.1" text-anchor="end" >0.7</text>
<text x="25.90" y="542.69" font-size="8" fill="#222" stroke="#222" stroke-width="0.1" text-anchor="end" >0.8</text>
<text x="25.90" y="532.99" font-size="8" fill="#222" stroke="#222" stroke-width="0.1" text-anchor="end" >0.9</text>
<text x="25.90" y="524.31" font-size="8" fill="#222" stroke="#222" stroke-width="0.1" text-anchor="end" >1</text>
<text x="25.90" y="467.21" font-size="8" fill="#222" stroke="#222" stroke-width="0.1" text-anchor="end" >2</text>
<text x="25.90" y="433.80" font-size="8" fill="#222" stroke="#222" stroke-width="0.1" text-anchor="end" >3</text>
<text x="0" y="0" font-size="9" fill="#111" stroke="#111" stroke-width="0.15" text-anchor="middle" transform="translate(8.2,499.00) rotate(-90)">Ne/O/0.157</text>
<text x="28.50" y="606.00" font-size="8" fill="#222" stroke="#222" stroke-width="0.1" text-anchor="middle" >2</text>
<text x="83.20" y="606.00" font-size="8" fill="#222" stroke="#222" stroke-width="0.1" text-anchor="middle" >4</text>
<text x="115.19" y="606.00" font-size="8" fill="#222" stroke="#222" stroke-width="0.1" text-anchor="middle" >6</text>
<text x="137.89" y="606.00" font-size="8" fill="#222" stroke="#222" stroke-width="0.1" text-anchor="middle" >8</text>
<text x="155.50" y="606.00" font-size="8" fill="#222" stroke="#222" stroke-width="0.1" text-anchor="middle" >10</text>
<text x="242.19" y="606.00" font-size="8" fill="#222" stroke="#222" stroke-width="0.1" text-anchor="middle" >30</text>
<text x="137.60" y="619.80" font-size="9.6" fill="#222" stroke="#222" stroke-width="0.1" text-anchor="start" >E</text>
<text x="143.20" y="623.10" font-size="5.4" fill="#222" stroke="#222" stroke-width="0.1" text-anchor="start" >i</text>
<text x="148.20" y="619.90" font-size="9.2" fill="#222" stroke="#222" stroke-width="0.1" text-anchor="start" >[MeV/n]</text>
<text x="59.80" y="423.20" font-size="12.35" fill="#111" stroke="#111" stroke-width="0.22" text-anchor="start" >Ne/O/0.157&lt;0.85</text>
<path d="M41.50,434.20H56.80" stroke="#cc0012" stroke-width="1.3" stroke-opacity="0.45"/>
<circle cx="49.30" cy="434.20" r="1.75" fill="#cc0012"/>
<text x="59.00" y="437.90" font-size="10.4" fill="#cc0012" stroke="#cc0012" stroke-width="0.1" text-anchor="start" >4/20/1998</text>
<path d="M41.50,444.30H56.80" stroke="#ff6e0a" stroke-width="1.3" stroke-opacity="0.45"/>
<circle cx="49.30" cy="444.30" r="1.75" fill="#ff6e0a"/>
<text x="59.00" y="448.00" font-size="10.4" fill="#ff6e0a" stroke="#ff6e0a" stroke-width="0.1" text-anchor="start" >8/24/1998</text>
<path d="M41.50,454.40H56.80" stroke="#046c0c" stroke-width="1.3" stroke-opacity="0.45"/>
<circle cx="49.30" cy="454.40" r="1.75" fill="#046c0c"/>
<text x="59.00" y="458.10" font-size="10.4" fill="#046c0c" stroke="#046c0c" stroke-width="0.1" text-anchor="start" >11/8/2000</text>
<path d="M41.50,464.50H56.80" stroke="#0808cc" stroke-width="1.3" stroke-opacity="0.45"/>
<circle cx="49.30" cy="464.50" r="1.75" fill="#0808cc"/>
<text x="59.00" y="468.20" font-size="10.4" fill="#0808cc" stroke="#0808cc" stroke-width="0.1" text-anchor="start" >9/24/2001</text>
<path d="M41.50,474.60H56.80" stroke="#7a12d8" stroke-width="1.3" stroke-opacity="0.45"/>
<circle cx="49.30" cy="474.60" r="1.75" fill="#7a12d8"/>
<text x="59.00" y="478.30" font-size="10.4" fill="#7a12d8" stroke="#7a12d8" stroke-width="0.1" text-anchor="start" >11/4/2001</text>
<path d="M114.40,434.20H129.60" stroke="#e4046e" stroke-width="1.3" stroke-opacity="0.45"/>
<circle cx="122.70" cy="434.20" r="1.75" fill="#e4046e"/>
<text x="131.80" y="437.90" font-size="10.4" fill="#e4046e" stroke="#e4046e" stroke-width="0.1" text-anchor="start" >12/26/2001</text>
<path d="M114.40,444.30H129.60" stroke="#08b2f6" stroke-width="1.3" stroke-opacity="0.45"/>
<circle cx="122.70" cy="444.30" r="1.75" fill="#08b2f6"/>
<text x="131.80" y="448.00" font-size="10.4" fill="#08b2f6" stroke="#08b2f6" stroke-width="0.1" text-anchor="start" >4/21/2002</text>
<path d="M114.40,454.40H129.60" stroke="#08f008" stroke-width="1.3" stroke-opacity="0.45"/>
<circle cx="122.70" cy="454.40" r="1.75" fill="#08f008"/>
<text x="131.80" y="458.10" font-size="10.4" fill="#08f008" stroke="#08f008" stroke-width="0.1" text-anchor="start" >10/28/2003</text>
<path d="M114.40,464.50H129.60" stroke="#a87e08" stroke-width="1.3" stroke-opacity="0.45"/>
<circle cx="122.70" cy="464.50" r="1.75" fill="#a87e08"/>
<text x="131.80" y="468.20" font-size="10.4" fill="#a87e08" stroke="#a87e08" stroke-width="0.1" text-anchor="start" >11/2/2003</text>
<rect x="377.40" y="511.60" width="54.20" height="24.40" fill="#f3d0e6" stroke="#e9bcd8" stroke-width="0.7"/>
<path d="M290.60,523.29H544.90" stroke="#767676" stroke-width="1.05"/>
<path d="M340.40,542.00 L342.67,540.62 L344.95,539.30 L347.23,538.14 L349.50,537.19 L351.77,536.52 L354.05,536.22 L356.33,536.36 L358.60,537.00 L360.90,538.20 L363.20,539.87 L365.50,541.87 L367.80,544.09 L370.10,546.38 L372.40,548.64 L374.70,550.72 L377.00,552.50 L379.25,553.86 L381.50,554.86 L383.75,555.54 L386.00,555.95 L388.25,556.14 L390.50,556.14 L392.75,556.02 L395.00,555.80 L397.30,555.54 L399.60,555.28 L401.90,555.07 L404.20,554.96 L406.50,555.00 L408.80,555.24 L411.10,555.72 L413.40,556.50 L415.65,557.57 L417.90,558.86 L420.15,560.28 L422.40,561.73 L424.65,563.11 L426.90,564.31 L429.15,565.24 L431.40,565.80 L433.66,565.91 L435.92,565.61 L438.19,564.96 L440.45,564.02 L442.71,562.85 L444.98,561.51 L447.24,560.08 L449.50,558.60 L451.81,557.10 L454.12,555.63 L456.44,554.18 L458.75,552.76 L461.06,551.36 L463.38,549.98 L465.69,548.63 L468.00,547.30 L470.26,546.02 L472.52,544.75 L474.79,543.47 L477.05,542.16 L479.31,540.82 L481.58,539.42 L483.84,537.95 L486.10,536.40 L488.34,534.77 L490.58,533.03 L492.81,531.19 L495.05,529.25 L497.29,527.20 L499.52,525.05 L501.76,522.78 L504.00,520.40 L506.26,517.88 L508.52,515.26 L510.79,512.55 L513.05,509.77 L515.31,506.93 L517.58,504.04 L519.84,501.13 L522.10,498.20" stroke="#ff6e0a" stroke-width="0.9" fill="none" stroke-opacity="0.85"/>
<path d="M340.40,534.00V552.00M339.30,534.00h2.2M339.30,552.00h2.2M358.60,529.00V544.00M357.50,529.00h2.2M357.50,544.00h2.2M377.00,537.00V558.00M375.90,537.00h2.2M375.90,558.00h2.2M395.00,548.00V569.60M393.90,548.00h2.2M393.90,569.60h2.2M413.40,554.30V558.70M412.30,554.30h2.2M412.30,558.70h2.2M431.40,559.80V571.80M430.30,559.80h2.2M430.30,571.80h2.2M449.50,553.60V563.60M448.40,553.60h2.2M448.40,563.60h2.2M468.00,540.30V554.30M466.90,540.30h2.2M466.90,554.30h2.2M486.10,528.40V544.40M485.00,528.40h2.2M485.00,544.40h2.2M504.00,510.40V530.40M502.90,510.40h2.2M502.90,530.40h2.2M522.10,481.20V515.20M521.00,481.20h2.2M521.00,515.20h2.2M413.40,552.00V570.70M412.30,552.00h2.2M412.30,570.70h2.2" stroke="#ff6e0a" stroke-width="0.8" fill="none" stroke-opacity="0.72"/>
<circle cx="340.40" cy="542.00" r="1.9" fill="#ff6e0a"/>
<circle cx="358.60" cy="537.00" r="1.9" fill="#ff6e0a"/>
<circle cx="377.00" cy="552.50" r="1.9" fill="#ff6e0a"/>
<circle cx="395.00" cy="555.80" r="1.9" fill="#ff6e0a"/>
<circle cx="413.40" cy="556.50" r="1.9" fill="#ff6e0a"/>
<circle cx="431.40" cy="565.80" r="1.9" fill="#ff6e0a"/>
<circle cx="449.50" cy="558.60" r="1.9" fill="#ff6e0a"/>
<circle cx="468.00" cy="547.30" r="1.9" fill="#ff6e0a"/>
<circle cx="486.10" cy="536.40" r="1.9" fill="#ff6e0a"/>
<circle cx="504.00" cy="520.40" r="1.9" fill="#ff6e0a"/>
<circle cx="522.10" cy="498.20" r="1.9" fill="#ff6e0a"/>
<circle cx="413.40" cy="558.20" r="1.9" fill="#ff6e0a"/>
<path d="M340.40,529.40 L342.67,531.17 L344.95,532.93 L347.23,534.66 L349.50,536.36 L351.77,538.00 L354.05,539.58 L356.33,541.08 L358.60,542.50 L360.90,543.83 L363.20,545.04 L365.50,546.13 L367.80,547.09 L370.10,547.91 L372.40,548.57 L374.70,549.07 L377.00,549.40 L379.25,549.55 L381.50,549.57 L383.75,549.49 L386.00,549.35 L388.25,549.20 L390.50,549.06 L392.75,548.98 L395.00,549.00 L397.30,549.15 L399.60,549.39 L401.90,549.69 L404.20,550.00 L406.50,550.28 L408.80,550.49 L411.10,550.58 L413.40,550.50 L415.65,550.24 L417.90,549.78 L420.15,549.16 L422.40,548.37 L424.65,547.43 L426.90,546.35 L429.15,545.13 L431.40,543.80 L433.66,542.35 L435.92,540.82 L438.19,539.21 L440.45,537.56 L442.71,535.88 L444.98,534.20 L447.24,532.53 L449.50,530.90 L451.81,529.29 L454.12,527.73 L456.44,526.22 L458.75,524.75 L461.06,523.34 L463.38,521.96 L465.69,520.61 L468.00,519.30 L470.26,518.04 L472.52,516.81 L474.79,515.59 L477.05,514.39 L479.31,513.21 L481.58,512.03 L483.84,510.87 L486.10,509.70" stroke="#046c0c" stroke-width="0.9" fill="none" stroke-opacity="0.85"/>
<path d="M413.40,548.30V552.70M412.30,548.30h2.2M412.30,552.70h2.2M431.40,539.80V547.80M430.30,539.80h2.2M430.30,547.80h2.2M449.50,522.90V538.90M448.40,522.90h2.2M448.40,538.90h2.2M468.00,507.30V531.30M466.90,507.30h2.2M466.90,531.30h2.2M486.10,490.70V528.70M485.00,490.70h2.2M485.00,528.70h2.2M413.40,552.70V557.10M412.30,552.70h2.2M412.30,557.10h2.2" stroke="#046c0c" stroke-width="0.8" fill="none" stroke-opacity="0.72"/>
<circle cx="340.40" cy="529.40" r="1.9" fill="#046c0c"/>
<circle cx="358.60" cy="542.50" r="1.9" fill="#046c0c"/>
<circle cx="377.00" cy="549.40" r="1.9" fill="#046c0c"/>
<circle cx="395.00" cy="549.00" r="1.9" fill="#046c0c"/>
<circle cx="413.40" cy="550.50" r="1.9" fill="#046c0c"/>
<circle cx="431.40" cy="543.80" r="1.9" fill="#046c0c"/>
<circle cx="449.50" cy="530.90" r="1.9" fill="#046c0c"/>
<circle cx="468.00" cy="519.30" r="1.9" fill="#046c0c"/>
<circle cx="486.10" cy="509.70" r="1.9" fill="#046c0c"/>
<circle cx="413.40" cy="554.90" r="1.9" fill="#046c0c"/>
<path d="M340.40,519.40 L342.67,521.29 L344.95,523.17 L347.23,525.04 L349.50,526.89 L351.77,528.72 L354.05,530.52 L356.33,532.28 L358.60,534.00 L360.90,535.69 L363.20,537.33 L365.50,538.90 L367.80,540.40 L370.10,541.83 L372.40,543.18 L374.70,544.44 L377.00,545.60 L379.25,546.63 L381.50,547.55 L383.75,548.33 L386.00,548.94 L388.25,549.38 L390.50,549.62 L392.75,549.63 L395.00,549.40 L397.30,548.91 L399.60,548.23 L401.90,547.43 L404.20,546.59 L406.50,545.80 L408.80,545.14 L411.10,544.68 L413.40,544.50 L415.65,544.66 L417.90,545.09 L420.15,545.72 L422.40,546.49 L424.65,547.31 L426.90,548.12 L429.15,548.84 L431.40,549.40 L433.66,549.75 L435.92,549.89 L438.19,549.87 L440.45,549.71 L442.71,549.45 L444.98,549.12 L447.24,548.76 L449.50,548.40 L451.81,548.06 L454.12,547.74 L456.44,547.45 L458.75,547.18 L461.06,546.93 L463.38,546.68 L465.69,546.44 L468.00,546.20 L470.26,545.96 L472.52,545.71 L474.79,545.44 L477.05,545.15 L479.31,544.83 L481.58,544.46 L483.84,544.06 L486.10,543.60 L488.34,543.09 L490.58,542.55 L492.81,541.97 L495.05,541.38 L497.29,540.80 L499.52,540.23 L501.76,539.69 L504.00,539.20 L506.26,538.76 L508.52,538.38 L510.79,538.05 L513.05,537.75 L515.31,537.48 L517.58,537.24 L519.84,537.02 L522.10,536.80" stroke="#0808cc" stroke-width="0.9" fill="none" stroke-opacity="0.85"/>
<path d="M413.40,542.30V546.70M412.30,542.30h2.2M412.30,546.70h2.2M431.40,547.20V551.60M430.30,547.20h2.2M430.30,551.60h2.2M449.50,546.20V550.60M448.40,546.20h2.2M448.40,550.60h2.2M468.00,544.00V548.40M466.90,544.00h2.2M466.90,548.40h2.2M486.10,540.40V546.80M485.00,540.40h2.2M485.00,546.80h2.2M504.00,533.20V545.20M502.90,533.20h2.2M502.90,545.20h2.2M522.10,526.20V547.40M521.00,526.20h2.2M521.00,547.40h2.2" stroke="#0808cc" stroke-width="0.8" fill="none" stroke-opacity="0.72"/>
<circle cx="340.40" cy="519.40" r="1.9" fill="#0808cc"/>
<circle cx="358.60" cy="534.00" r="1.9" fill="#0808cc"/>
<circle cx="377.00" cy="545.60" r="1.9" fill="#0808cc"/>
<circle cx="395.00" cy="549.40" r="1.9" fill="#0808cc"/>
<circle cx="413.40" cy="544.50" r="1.9" fill="#0808cc"/>
<circle cx="431.40" cy="549.40" r="1.9" fill="#0808cc"/>
<circle cx="449.50" cy="548.40" r="1.9" fill="#0808cc"/>
<circle cx="468.00" cy="546.20" r="1.9" fill="#0808cc"/>
<circle cx="486.10" cy="543.60" r="1.9" fill="#0808cc"/>
<circle cx="504.00" cy="539.20" r="1.9" fill="#0808cc"/>
<circle cx="522.10" cy="536.80" r="1.9" fill="#0808cc"/>
<path d="M340.40,536.40 L342.67,537.07 L344.95,537.76 L347.23,538.48 L349.50,539.24 L351.77,540.06 L354.05,540.95 L356.33,541.92 L358.60,543.00 L360.90,544.20 L363.20,545.47 L365.50,546.77 L367.80,548.07 L370.10,549.33 L372.40,550.50 L374.70,551.53 L377.00,552.40 L379.25,553.05 L381.50,553.51 L383.75,553.79 L386.00,553.89 L388.25,553.82 L390.50,553.59 L392.75,553.22 L395.00,552.70 L397.30,552.04 L399.60,551.26 L401.90,550.40 L404.20,549.47 L406.50,548.50 L408.80,547.51 L411.10,546.54 L413.40,545.60 L415.65,544.73 L417.90,543.90 L420.15,543.08 L422.40,542.25 L424.65,541.40 L426.90,540.51 L429.15,539.55 L431.40,538.50 L433.66,537.35 L435.92,536.11 L438.19,534.80 L440.45,533.46 L442.71,532.09 L444.98,530.73 L447.24,529.39 L449.50,528.10 L451.81,526.85 L454.12,525.66 L456.44,524.52 L458.75,523.43 L461.06,522.37 L463.38,521.33 L465.69,520.31 L468.00,519.30 L470.26,518.30 L472.52,517.28 L474.79,516.22 L477.05,515.11 L479.31,513.91 L481.58,512.63 L483.84,511.23 L486.10,509.70 L488.34,508.05 L490.58,506.31 L492.81,504.50 L495.05,502.67 L497.29,500.86 L499.52,499.12 L501.76,497.49 L504.00,496.00 L506.26,494.68 L508.52,493.52 L510.79,492.51 L513.05,491.63 L515.31,490.84 L517.58,490.12 L519.84,489.45 L522.10,488.80" stroke="#7a12d8" stroke-width="0.9" fill="none" stroke-opacity="0.85"/>
<path d="M413.40,543.40V547.80M412.30,543.40h2.2M412.30,547.80h2.2M431.40,533.60V543.00M430.30,533.60h2.2M430.30,543.00h2.2M449.50,522.10V534.10M448.40,522.10h2.2M448.40,534.10h2.2M468.00,513.30V525.30M466.90,513.30h2.2M466.90,525.30h2.2M486.10,501.70V517.70M485.00,501.70h2.2M485.00,517.70h2.2M504.00,486.00V506.00M502.90,486.00h2.2M502.90,506.00h2.2M522.10,472.80V504.80M521.00,472.80h2.2M521.00,504.80h2.2M413.40,539.10V543.50M412.30,539.10h2.2M412.30,543.50h2.2M413.40,546.20V550.60M412.30,546.20h2.2M412.30,550.60h2.2" stroke="#7a12d8" stroke-width="0.8" fill="none" stroke-opacity="0.72"/>
<circle cx="340.40" cy="536.40" r="1.9" fill="#7a12d8"/>
<circle cx="358.60" cy="543.00" r="1.9" fill="#7a12d8"/>
<circle cx="377.00" cy="552.40" r="1.9" fill="#7a12d8"/>
<circle cx="395.00" cy="552.70" r="1.9" fill="#7a12d8"/>
<circle cx="413.40" cy="545.60" r="1.9" fill="#7a12d8"/>
<circle cx="431.40" cy="538.50" r="1.9" fill="#7a12d8"/>
<circle cx="449.50" cy="528.10" r="1.9" fill="#7a12d8"/>
<circle cx="468.00" cy="519.30" r="1.9" fill="#7a12d8"/>
<circle cx="486.10" cy="509.70" r="1.9" fill="#7a12d8"/>
<circle cx="504.00" cy="496.00" r="1.9" fill="#7a12d8"/>
<circle cx="522.10" cy="488.80" r="1.9" fill="#7a12d8"/>
<circle cx="413.40" cy="541.30" r="1.9" fill="#7a12d8"/>
<circle cx="413.40" cy="548.40" r="1.9" fill="#7a12d8"/>
<path d="M340.40,540.40 L342.67,541.22 L344.95,542.05 L347.23,542.89 L349.50,543.75 L351.77,544.62 L354.05,545.52 L356.33,546.44 L358.60,547.40 L360.90,548.40 L363.20,549.37 L365.50,550.27 L367.80,551.02 L370.10,551.57 L372.40,551.86 L374.70,551.82 L377.00,551.40 L379.25,550.58 L381.50,549.44 L383.75,548.07 L386.00,546.58 L388.25,545.05 L390.50,543.60 L392.75,542.31 L395.00,541.30 L397.30,540.63 L399.60,540.32 L401.90,540.35 L404.20,540.71 L406.50,541.38 L408.80,542.33 L411.10,543.54 L413.40,545.00 L415.65,546.63 L417.90,548.37 L420.15,550.12 L422.40,551.78 L424.65,553.25 L426.90,554.43 L429.15,555.21 L431.40,555.50 L433.66,555.22 L435.92,554.44 L438.19,553.25 L440.45,551.73 L442.71,550.00 L444.98,548.13 L447.24,546.24 L449.50,544.40 L451.81,542.66 L454.12,541.07 L456.44,539.59 L458.75,538.20 L461.06,536.88 L463.38,535.61 L465.69,534.35 L468.00,533.10 L470.26,531.84 L472.52,530.52 L474.79,529.08 L477.05,527.47 L479.31,525.66 L481.58,523.59 L483.84,521.22 L486.10,518.50 L488.34,515.44 L490.58,512.05 L492.81,508.36 L495.05,504.44 L497.29,500.32 L499.52,496.06 L501.76,491.70 L504.00,487.30" stroke="#cc0012" stroke-width="0.9" fill="none" stroke-opacity="0.85"/>
<path d="M395.00,534.20V548.00M393.90,534.20h2.2M393.90,548.00h2.2M413.40,542.80V547.20M412.30,542.80h2.2M412.30,547.20h2.2M431.40,550.50V560.50M430.30,550.50h2.2M430.30,560.50h2.2M449.50,539.40V549.40M448.40,539.40h2.2M448.40,549.40h2.2M468.00,527.10V539.10M466.90,527.10h2.2M466.90,539.10h2.2M486.10,510.50V526.50M485.00,510.50h2.2M485.00,526.50h2.2M504.00,466.30V508.30M502.90,466.30h2.2M502.90,508.30h2.2M413.40,521.60V541.00M412.30,521.60h2.2M412.30,541.00h2.2M413.40,559.20V563.60M412.30,559.20h2.2M412.30,563.60h2.2" stroke="#cc0012" stroke-width="0.8" fill="none" stroke-opacity="0.72"/>
<circle cx="340.40" cy="540.40" r="1.9" fill="#cc0012"/>
<circle cx="358.60" cy="547.40" r="1.9" fill="#cc0012"/>
<circle cx="377.00" cy="551.40" r="1.9" fill="#cc0012"/>
<circle cx="395.00" cy="541.30" r="1.9" fill="#cc0012"/>
<circle cx="413.40" cy="545.00" r="1.9" fill="#cc0012"/>
<circle cx="431.40" cy="555.50" r="1.9" fill="#cc0012"/>
<circle cx="449.50" cy="544.40" r="1.9" fill="#cc0012"/>
<circle cx="468.00" cy="533.10" r="1.9" fill="#cc0012"/>
<circle cx="486.10" cy="518.50" r="1.9" fill="#cc0012"/>
<circle cx="504.00" cy="487.30" r="1.9" fill="#cc0012"/>
<circle cx="413.40" cy="531.50" r="1.9" fill="#cc0012"/>
<circle cx="413.40" cy="561.40" r="1.9" fill="#cc0012"/>
<path d="M322.63,599.10v-2.0M322.63,408.60v2.0M345.36,599.10v-2.0M345.36,408.60v2.0M362.99,599.10v-2.0M362.99,408.60v2.0M377.39,599.10v-2.0M377.39,408.60v2.0M389.57,599.10v-2.0M389.57,408.60v2.0M400.12,599.10v-2.0M400.12,408.60v2.0M409.43,599.10v-2.0M409.43,408.60v2.0M417.75,599.10v-3.0M417.75,408.60v3.0M472.51,599.10v-2.0M472.51,408.60v2.0M504.54,599.10v-2.0M504.54,408.60v2.0M527.27,599.10v-2.0M527.27,408.60v2.0M290.60,580.64h2.0M544.90,580.64h-2.0M290.60,565.55h2.0M544.90,565.55h-2.0M290.60,552.80h2.0M544.90,552.80h-2.0M290.60,541.75h2.0M544.90,541.75h-2.0M290.60,532.01h2.0M544.90,532.01h-2.0M290.60,523.29h2.0M544.90,523.29h-2.0M290.60,465.95h2.0M544.90,465.95h-2.0M290.60,432.40h2.0M544.90,432.40h-2.0" stroke="#9696ec" stroke-width="1" fill="none"/>
<rect x="290.60" y="408.60" width="254.30" height="190.50" fill="none" stroke="#9696ec" stroke-width="1.3"/>
<text x="345.36" y="607.20" font-size="8" fill="#222" stroke="#222" stroke-width="0.1" text-anchor="middle" >4</text>
<text x="377.39" y="607.20" font-size="8" fill="#222" stroke="#222" stroke-width="0.1" text-anchor="middle" >6</text>
<text x="400.12" y="607.20" font-size="8" fill="#222" stroke="#222" stroke-width="0.1" text-anchor="middle" >8</text>
<text x="417.75" y="607.20" font-size="8" fill="#222" stroke="#222" stroke-width="0.1" text-anchor="middle" >10</text>
<text x="504.54" y="607.20" font-size="8" fill="#222" stroke="#222" stroke-width="0.1" text-anchor="middle" >30</text>
<text x="544.90" y="607.20" font-size="8" fill="#222" stroke="#222" stroke-width="0.1" text-anchor="middle" >50</text>
<text x="403.40" y="621.00" font-size="9.6" fill="#222" stroke="#222" stroke-width="0.1" text-anchor="start" >E</text>
<text x="409.00" y="624.30" font-size="5.4" fill="#222" stroke="#222" stroke-width="0.1" text-anchor="start" >i</text>
<text x="414.00" y="621.10" font-size="9.2" fill="#222" stroke="#222" stroke-width="0.1" text-anchor="start" >[MeV/n]</text>
<text x="309.80" y="424.10" font-size="12.35" fill="#111" stroke="#111" stroke-width="0.22" text-anchor="start" >Ne/O/0.157&lt;0.85</text>
<path d="M394.40,437.50H409.60" stroke="#cc0012" stroke-width="1.3" stroke-opacity="0.45"/>
<circle cx="401.90" cy="437.50" r="1.75" fill="#cc0012"/>
<text x="411.10" y="441.20" font-size="10.4" fill="#cc0012" stroke="#cc0012" stroke-width="0.1" text-anchor="start" >6/7/2011</text>
<path d="M394.40,447.60H409.60" stroke="#ff6e0a" stroke-width="1.3" stroke-opacity="0.45"/>
<circle cx="401.90" cy="447.60" r="1.75" fill="#ff6e0a"/>
<text x="411.10" y="451.30" font-size="10.4" fill="#ff6e0a" stroke="#ff6e0a" stroke-width="0.1" text-anchor="start" >7/23/2012</text>
<path d="M394.40,457.70H409.60" stroke="#046c0c" stroke-width="1.3" stroke-opacity="0.45"/>
<circle cx="401.90" cy="457.70" r="1.75" fill="#046c0c"/>
<text x="411.10" y="461.40" font-size="10.4" fill="#046c0c" stroke="#046c0c" stroke-width="0.1" text-anchor="start" >4/11/2013</text>
<path d="M394.40,467.80H409.60" stroke="#0808cc" stroke-width="1.3" stroke-opacity="0.45"/>
<circle cx="401.90" cy="467.80" r="1.75" fill="#0808cc"/>
<text x="411.10" y="471.50" font-size="10.4" fill="#0808cc" stroke="#0808cc" stroke-width="0.1" text-anchor="start" >1/7/2014</text>
<path d="M394.40,477.90H409.60" stroke="#7a12d8" stroke-width="1.3" stroke-opacity="0.45"/>
<circle cx="401.90" cy="477.90" r="1.75" fill="#7a12d8"/>
<text x="411.10" y="481.60" font-size="10.4" fill="#7a12d8" stroke="#7a12d8" stroke-width="0.1" text-anchor="start" >2/25/2014</text>
<text x="119.20" y="11.00" font-size="12.35" fill="#111" stroke="#111" stroke-width="0.22" text-anchor="start" >Solar Cycle 23</text>
<text x="383.60" y="10.90" font-size="12.35" fill="#111" stroke="#111" stroke-width="0.22" text-anchor="start" >Solar Cycle 24</text>
</svg>
</body></html>
